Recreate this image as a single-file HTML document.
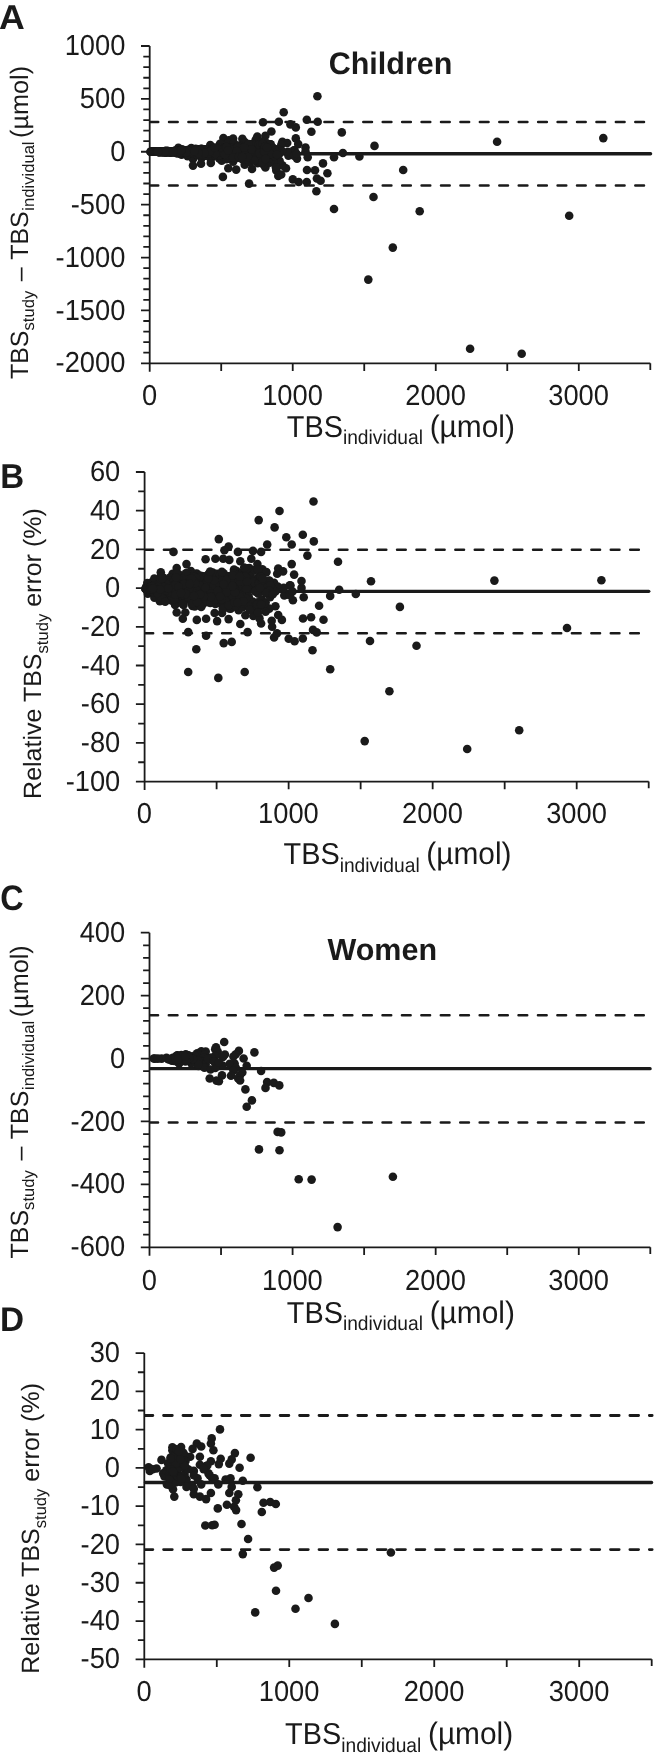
<!DOCTYPE html>
<html lang="en"><head><meta charset="utf-8"><title>Figure</title><style>html,body{margin:0;padding:0;background:#fff}svg{display:block;text-rendering:geometricPrecision;will-change:transform}</style></head><body>
<svg width="654" height="1756" viewBox="0 0 654 1756" font-family="'Liberation Sans', sans-serif" fill="#1a1a1a">
<rect width="654" height="1756" fill="#fff"/>
<path d="M149.70 46.00V371.80M141.00 363.30H650.30M141.00 46.00H149.70M143.30 56.58H149.70M143.30 67.15H149.70M143.30 77.73H149.70M143.30 88.31H149.70M141.00 98.88H149.70M143.30 109.46H149.70M143.30 120.04H149.70M143.30 130.61H149.70M143.30 141.19H149.70M141.00 151.77H149.70M143.30 162.34H149.70M143.30 172.92H149.70M143.30 183.50H149.70M143.30 194.07H149.70M141.00 204.65H149.70M143.30 215.23H149.70M143.30 225.80H149.70M143.30 236.38H149.70M143.30 246.96H149.70M141.00 257.53H149.70M143.30 268.11H149.70M143.30 278.69H149.70M143.30 289.26H149.70M143.30 299.84H149.70M141.00 310.42H149.70M143.30 320.99H149.70M143.30 331.57H149.70M143.30 342.15H149.70M143.30 352.72H149.70M141.00 363.30H149.70M221.21 363.30V370.90M292.73 363.30V370.90M364.24 363.30V370.90M435.76 363.30V370.90M507.27 363.30V370.90M578.79 363.30V370.90M650.30 363.30V369.90" stroke="#1a1a1a" stroke-width="1.8" fill="none"/>
<text transform="translate(125.40 55.10) scale(1 1.06)" font-size="27.3" text-anchor="end">1000</text>
<text transform="translate(125.40 107.98) scale(1 1.06)" font-size="27.3" text-anchor="end">500</text>
<text transform="translate(125.40 160.87) scale(1 1.06)" font-size="27.3" text-anchor="end">0</text>
<text transform="translate(125.40 213.75) scale(1 1.06)" font-size="27.3" text-anchor="end">-500</text>
<text transform="translate(125.40 266.63) scale(1 1.06)" font-size="27.3" text-anchor="end">-1000</text>
<text transform="translate(125.40 319.52) scale(1 1.06)" font-size="27.3" text-anchor="end">-1500</text>
<text transform="translate(125.40 372.40) scale(1 1.06)" font-size="27.3" text-anchor="end">-2000</text>
<text transform="translate(149.50 405.40) scale(1 1.06)" font-size="27.3" text-anchor="middle">0</text>
<text transform="translate(292.53 405.40) scale(1 1.06)" font-size="27.3" text-anchor="middle">1000</text>
<text transform="translate(435.56 405.40) scale(1 1.06)" font-size="27.3" text-anchor="middle">2000</text>
<text transform="translate(578.59 405.40) scale(1 1.06)" font-size="27.3" text-anchor="middle">3000</text>
<path d="M150.90 153.75H650.60" stroke="#1a1a1a" stroke-width="3.3" stroke-linecap="round" fill="none"/>
<path d="M150.70 122.00H644.35" stroke="#1a1a1a" stroke-width="2.5" stroke-linecap="round" stroke-dasharray="8.7 10.73" stroke-dashoffset="1.15" fill="none"/>
<path d="M150.70 185.55H644.35" stroke="#1a1a1a" stroke-width="2.5" stroke-linecap="round" stroke-dasharray="8.7 10.73" stroke-dashoffset="1.15" fill="none"/>
<g><circle cx="283.7" cy="112.3" r="4.3"/><circle cx="263.0" cy="122.3" r="4.3"/><circle cx="278.8" cy="121.8" r="4.3"/><circle cx="290.4" cy="124.4" r="4.3"/><circle cx="295.8" cy="127.4" r="4.3"/><circle cx="306.8" cy="119.7" r="4.3"/><circle cx="271.4" cy="131.5" r="4.3"/><circle cx="223.4" cy="138.0" r="4.3"/><circle cx="233.1" cy="138.5" r="4.3"/><circle cx="228.9" cy="140.3" r="4.3"/><circle cx="242.4" cy="138.9" r="4.3"/><circle cx="257.3" cy="136.5" r="4.3"/><circle cx="265.4" cy="135.8" r="4.3"/><circle cx="178.4" cy="147.8" r="4.3"/><circle cx="210.3" cy="145.1" r="4.3"/><circle cx="220.0" cy="143.9" r="4.3"/><circle cx="227.8" cy="143.0" r="4.3"/><circle cx="233.8" cy="142.7" r="4.3"/><circle cx="191.3" cy="148.0" r="4.3"/><circle cx="181.6" cy="149.3" r="4.3"/><circle cx="165.8" cy="150.8" r="4.3"/><circle cx="295.8" cy="138.4" r="4.3"/><circle cx="282.4" cy="141.8" r="4.3"/><circle cx="287.2" cy="143.0" r="4.3"/><circle cx="298.2" cy="144.1" r="4.3"/><circle cx="244.7" cy="142.0" r="4.3"/><circle cx="255.7" cy="139.9" r="4.3"/><circle cx="261.7" cy="141.5" r="4.3"/><circle cx="270.3" cy="144.4" r="4.3"/><circle cx="181.6" cy="154.7" r="4.3"/><circle cx="190.1" cy="155.5" r="4.3"/><circle cx="187.6" cy="156.2" r="4.3"/><circle cx="201.5" cy="158.1" r="4.3"/><circle cx="210.8" cy="158.9" r="4.3"/><circle cx="221.7" cy="160.8" r="4.3"/><circle cx="233.1" cy="161.6" r="4.3"/><circle cx="219.2" cy="158.4" r="4.3"/><circle cx="226.6" cy="159.1" r="4.3"/><circle cx="244.7" cy="164.8" r="4.3"/><circle cx="252.0" cy="169.0" r="4.3"/><circle cx="193.0" cy="159.0" r="4.3"/><circle cx="210.8" cy="162.9" r="4.3"/><circle cx="228.3" cy="168.3" r="4.3"/><circle cx="236.2" cy="169.6" r="4.3"/><circle cx="201.0" cy="163.8" r="4.3"/><circle cx="193.0" cy="165.6" r="4.3"/><circle cx="222.9" cy="176.9" r="4.3"/><circle cx="249.1" cy="183.6" r="4.3"/><circle cx="265.4" cy="167.4" r="4.3"/><circle cx="276.3" cy="170.4" r="4.3"/><circle cx="286.0" cy="168.3" r="4.3"/><circle cx="282.4" cy="165.4" r="4.3"/><circle cx="278.3" cy="176.0" r="4.3"/><circle cx="281.2" cy="174.5" r="4.3"/><circle cx="292.8" cy="179.4" r="4.3"/><circle cx="298.7" cy="182.0" r="4.3"/><circle cx="307.0" cy="170.0" r="4.3"/><circle cx="297.0" cy="158.6" r="4.3"/><circle cx="288.4" cy="155.6" r="4.3"/><circle cx="305.5" cy="151.6" r="4.3"/><circle cx="294.6" cy="150.4" r="4.3"/><circle cx="317.4" cy="96.3" r="4.3"/><circle cx="317.7" cy="121.8" r="4.3"/><circle cx="311.4" cy="131.7" r="4.3"/><circle cx="341.8" cy="132.4" r="4.3"/><circle cx="305.5" cy="147.5" r="4.3"/><circle cx="374.5" cy="145.9" r="4.3"/><circle cx="293.9" cy="150.3" r="4.3"/><circle cx="287.8" cy="151.7" r="4.3"/><circle cx="342.9" cy="153.0" r="4.3"/><circle cx="359.4" cy="156.5" r="4.3"/><circle cx="334.0" cy="157.3" r="4.3"/><circle cx="307.7" cy="157.3" r="4.3"/><circle cx="293.9" cy="155.7" r="4.3"/><circle cx="323.0" cy="163.4" r="4.3"/><circle cx="403.2" cy="170.0" r="4.3"/><circle cx="315.0" cy="170.2" r="4.3"/><circle cx="327.4" cy="173.2" r="4.3"/><circle cx="316.9" cy="178.5" r="4.3"/><circle cx="320.6" cy="180.7" r="4.3"/><circle cx="306.8" cy="182.0" r="4.3"/><circle cx="316.4" cy="191.3" r="4.3"/><circle cx="373.5" cy="197.0" r="4.3"/><circle cx="419.7" cy="211.3" r="4.3"/><circle cx="281.4" cy="144.5" r="4.3"/><circle cx="267.4" cy="143.9" r="4.3"/><circle cx="296.6" cy="153.7" r="4.3"/><circle cx="273.5" cy="148.2" r="4.3"/><circle cx="278.3" cy="149.2" r="4.3"/><circle cx="282.0" cy="151.0" r="4.3"/><circle cx="275.9" cy="151.6" r="4.3"/><circle cx="279.6" cy="153.5" r="4.3"/><circle cx="274.1" cy="154.5" r="4.3"/><circle cx="270.5" cy="152.8" r="4.3"/><circle cx="266.2" cy="157.1" r="4.3"/><circle cx="269.9" cy="158.4" r="4.3"/><circle cx="279.6" cy="160.8" r="4.3"/><circle cx="273.5" cy="161.5" r="4.3"/><circle cx="269.9" cy="162.6" r="4.3"/><circle cx="275.9" cy="167.5" r="4.3"/><circle cx="257.6" cy="163.3" r="4.3"/><circle cx="263.8" cy="165.0" r="4.3"/><circle cx="249.8" cy="162.2" r="4.3"/><circle cx="258.9" cy="160.3" r="4.3"/><circle cx="254.1" cy="158.0" r="4.3"/><circle cx="334.0" cy="209.0" r="4.3"/><circle cx="392.8" cy="247.6" r="4.3"/><circle cx="368.3" cy="279.6" r="4.3"/><circle cx="470.1" cy="348.8" r="4.3"/><circle cx="521.7" cy="353.8" r="4.3"/><circle cx="497.1" cy="141.8" r="4.3"/><circle cx="603.3" cy="138.1" r="4.3"/><circle cx="569.2" cy="215.7" r="4.3"/><circle cx="181.8" cy="152.9" r="4.3"/><circle cx="207.6" cy="152.4" r="4.3"/><circle cx="235.2" cy="158.5" r="4.3"/><circle cx="243.0" cy="159.7" r="4.3"/><circle cx="217.4" cy="153.6" r="4.3"/><circle cx="253.0" cy="155.9" r="4.3"/><circle cx="235.7" cy="155.1" r="4.3"/><circle cx="249.8" cy="150.8" r="4.3"/><circle cx="190.8" cy="151.1" r="4.3"/><circle cx="230.8" cy="152.2" r="4.3"/><circle cx="156.3" cy="151.7" r="4.3"/><circle cx="217.9" cy="153.6" r="4.3"/><circle cx="241.0" cy="145.8" r="4.3"/><circle cx="227.6" cy="150.0" r="4.3"/><circle cx="167.8" cy="151.0" r="4.3"/><circle cx="178.2" cy="151.2" r="4.3"/><circle cx="165.5" cy="151.4" r="4.3"/><circle cx="197.2" cy="155.0" r="4.3"/><circle cx="196.1" cy="153.0" r="4.3"/><circle cx="154.2" cy="151.8" r="4.3"/><circle cx="176.4" cy="152.5" r="4.3"/><circle cx="186.8" cy="151.0" r="4.3"/><circle cx="235.3" cy="150.7" r="4.3"/><circle cx="170.9" cy="152.5" r="4.3"/><circle cx="253.3" cy="150.7" r="4.3"/><circle cx="214.2" cy="153.1" r="4.3"/><circle cx="222.3" cy="148.7" r="4.3"/><circle cx="192.0" cy="150.7" r="4.3"/><circle cx="159.8" cy="151.8" r="4.3"/><circle cx="205.7" cy="155.1" r="4.3"/><circle cx="254.2" cy="160.1" r="4.3"/><circle cx="251.0" cy="156.5" r="4.3"/><circle cx="182.4" cy="150.1" r="4.3"/><circle cx="198.5" cy="149.3" r="4.3"/><circle cx="191.9" cy="152.1" r="4.3"/><circle cx="221.0" cy="151.7" r="4.3"/><circle cx="219.3" cy="148.2" r="4.3"/><circle cx="204.7" cy="149.7" r="4.3"/><circle cx="267.0" cy="148.6" r="4.3"/><circle cx="238.7" cy="147.9" r="4.3"/><circle cx="246.3" cy="151.9" r="4.3"/><circle cx="227.4" cy="149.3" r="4.3"/><circle cx="215.2" cy="155.0" r="4.3"/><circle cx="189.7" cy="151.3" r="4.3"/><circle cx="244.6" cy="148.9" r="4.3"/><circle cx="158.5" cy="151.7" r="4.3"/><circle cx="188.3" cy="154.2" r="4.3"/><circle cx="175.6" cy="151.6" r="4.3"/><circle cx="262.7" cy="147.0" r="4.3"/><circle cx="255.7" cy="148.5" r="4.3"/><circle cx="191.8" cy="151.4" r="4.3"/><circle cx="171.9" cy="152.3" r="4.3"/><circle cx="257.3" cy="158.8" r="4.3"/><circle cx="204.7" cy="154.7" r="4.3"/><circle cx="198.6" cy="152.0" r="4.3"/><circle cx="244.2" cy="149.6" r="4.3"/><circle cx="169.0" cy="151.8" r="4.3"/><circle cx="188.7" cy="153.0" r="4.3"/><circle cx="179.4" cy="152.8" r="4.3"/><circle cx="234.3" cy="149.1" r="4.3"/><circle cx="231.6" cy="150.2" r="4.3"/><circle cx="176.5" cy="151.7" r="4.3"/><circle cx="177.6" cy="152.1" r="4.3"/><circle cx="190.7" cy="150.3" r="4.3"/><circle cx="197.5" cy="150.2" r="4.3"/><circle cx="229.5" cy="151.9" r="4.3"/><circle cx="160.6" cy="151.7" r="4.3"/><circle cx="184.4" cy="151.8" r="4.3"/><circle cx="212.5" cy="153.6" r="4.3"/><circle cx="262.3" cy="148.5" r="4.3"/><circle cx="229.7" cy="152.1" r="4.3"/><circle cx="250.6" cy="144.4" r="4.3"/><circle cx="201.8" cy="149.6" r="4.3"/><circle cx="182.4" cy="153.2" r="4.3"/><circle cx="259.2" cy="152.1" r="4.3"/><circle cx="228.7" cy="157.1" r="4.3"/><circle cx="220.7" cy="151.3" r="4.3"/><circle cx="164.8" cy="151.9" r="4.3"/><circle cx="160.1" cy="151.8" r="4.3"/><circle cx="220.7" cy="153.3" r="4.3"/><circle cx="153.7" cy="151.8" r="4.3"/><circle cx="226.5" cy="150.9" r="4.3"/><circle cx="161.5" cy="151.4" r="4.3"/><circle cx="184.0" cy="150.5" r="4.3"/><circle cx="234.8" cy="151.9" r="4.3"/><circle cx="267.6" cy="150.3" r="4.3"/><circle cx="205.9" cy="152.8" r="4.3"/><circle cx="180.4" cy="151.8" r="4.3"/><circle cx="217.0" cy="149.8" r="4.3"/><circle cx="199.1" cy="151.8" r="4.3"/><circle cx="220.0" cy="156.0" r="4.3"/><circle cx="215.8" cy="151.1" r="4.3"/><circle cx="181.1" cy="151.3" r="4.3"/><circle cx="251.1" cy="151.2" r="4.3"/><circle cx="214.0" cy="150.9" r="4.3"/><circle cx="192.5" cy="153.5" r="4.3"/><circle cx="243.1" cy="149.2" r="4.3"/><circle cx="225.0" cy="154.7" r="4.3"/><circle cx="162.3" cy="151.6" r="4.3"/><circle cx="260.4" cy="160.9" r="4.3"/><circle cx="222.4" cy="152.6" r="4.3"/><circle cx="170.1" cy="152.1" r="4.3"/><circle cx="167.3" cy="152.1" r="4.3"/><circle cx="216.9" cy="152.2" r="4.3"/><circle cx="210.5" cy="152.1" r="4.3"/><circle cx="212.2" cy="154.7" r="4.3"/><circle cx="234.1" cy="148.7" r="4.3"/><circle cx="196.2" cy="152.1" r="4.3"/><circle cx="228.9" cy="156.2" r="4.3"/><circle cx="155.0" cy="151.8" r="4.3"/><circle cx="213.0" cy="150.7" r="4.3"/><circle cx="245.1" cy="152.6" r="4.3"/><circle cx="221.9" cy="151.3" r="4.3"/><circle cx="181.4" cy="152.0" r="4.3"/><circle cx="211.5" cy="152.7" r="4.3"/><circle cx="155.4" cy="151.7" r="4.3"/><circle cx="201.8" cy="150.8" r="4.3"/><circle cx="207.5" cy="152.5" r="4.3"/><circle cx="229.3" cy="151.7" r="4.3"/><circle cx="197.5" cy="152.6" r="4.3"/><circle cx="244.0" cy="156.9" r="4.3"/><circle cx="216.8" cy="154.7" r="4.3"/><circle cx="193.3" cy="151.8" r="4.3"/><circle cx="171.9" cy="151.3" r="4.3"/><circle cx="197.1" cy="151.0" r="4.3"/><circle cx="177.6" cy="153.1" r="4.3"/><circle cx="179.8" cy="150.5" r="4.3"/><circle cx="180.2" cy="152.1" r="4.3"/><circle cx="212.8" cy="152.0" r="4.3"/><circle cx="266.7" cy="143.3" r="4.3"/><circle cx="235.7" cy="150.6" r="4.3"/><circle cx="187.9" cy="153.5" r="4.3"/><circle cx="181.4" cy="152.8" r="4.3"/><circle cx="249.7" cy="152.5" r="4.3"/><circle cx="154.6" cy="151.8" r="4.3"/><circle cx="201.3" cy="149.5" r="4.3"/><circle cx="253.1" cy="151.4" r="4.3"/><circle cx="160.2" cy="151.9" r="4.3"/><circle cx="180.9" cy="150.9" r="4.3"/><circle cx="221.9" cy="153.2" r="4.3"/><circle cx="241.8" cy="153.4" r="4.3"/><circle cx="223.3" cy="155.9" r="4.3"/><circle cx="257.6" cy="148.3" r="4.3"/><circle cx="185.4" cy="152.6" r="4.3"/><circle cx="238.1" cy="151.3" r="4.3"/><circle cx="168.1" cy="151.9" r="4.3"/><circle cx="226.8" cy="153.0" r="4.3"/><circle cx="177.7" cy="152.0" r="4.3"/><circle cx="180.0" cy="153.7" r="4.3"/><circle cx="262.2" cy="151.9" r="4.3"/><circle cx="230.9" cy="154.0" r="4.3"/><circle cx="256.0" cy="145.1" r="4.3"/><circle cx="166.2" cy="151.4" r="4.3"/><circle cx="247.9" cy="156.4" r="4.3"/><circle cx="228.0" cy="153.9" r="4.3"/><circle cx="212.1" cy="151.4" r="4.3"/><circle cx="259.9" cy="153.0" r="4.3"/><circle cx="185.9" cy="152.6" r="4.3"/><circle cx="247.0" cy="153.7" r="4.3"/><circle cx="224.0" cy="148.2" r="4.3"/><circle cx="261.3" cy="159.6" r="4.3"/><circle cx="200.6" cy="149.0" r="4.3"/><circle cx="238.4" cy="154.5" r="4.3"/><circle cx="245.8" cy="146.1" r="4.3"/><circle cx="179.8" cy="151.7" r="4.3"/><circle cx="242.0" cy="150.6" r="4.3"/><circle cx="152.9" cy="151.8" r="4.3"/><circle cx="246.9" cy="151.8" r="4.3"/><circle cx="179.9" cy="151.5" r="4.3"/><circle cx="221.5" cy="151.1" r="4.3"/><circle cx="204.2" cy="154.3" r="4.3"/><circle cx="208.9" cy="150.4" r="4.3"/><circle cx="176.6" cy="152.4" r="4.3"/><circle cx="223.2" cy="153.9" r="4.3"/><circle cx="224.4" cy="151.5" r="4.3"/><circle cx="177.6" cy="151.7" r="4.3"/><circle cx="208.1" cy="149.2" r="4.3"/><circle cx="173.2" cy="151.4" r="4.3"/><circle cx="154.9" cy="151.7" r="4.3"/><circle cx="231.9" cy="150.4" r="4.3"/><circle cx="251.3" cy="151.8" r="4.3"/><circle cx="253.1" cy="155.6" r="4.3"/><circle cx="196.9" cy="149.9" r="4.3"/><circle cx="160.9" cy="151.9" r="4.3"/><circle cx="190.9" cy="151.4" r="4.3"/><circle cx="270.1" cy="154.3" r="4.3"/><circle cx="232.6" cy="155.9" r="4.3"/><circle cx="201.5" cy="148.9" r="4.3"/><circle cx="253.8" cy="143.8" r="4.3"/><circle cx="214.3" cy="149.7" r="4.3"/><circle cx="222.9" cy="149.0" r="4.3"/><circle cx="218.1" cy="153.8" r="4.3"/><circle cx="189.3" cy="152.6" r="4.3"/><circle cx="168.6" cy="151.4" r="4.3"/><circle cx="165.0" cy="151.5" r="4.3"/><circle cx="169.5" cy="151.4" r="4.3"/><circle cx="191.7" cy="152.7" r="4.3"/><circle cx="231.1" cy="152.2" r="4.3"/><circle cx="161.9" cy="151.7" r="4.3"/><circle cx="175.3" cy="150.8" r="4.3"/><circle cx="184.4" cy="152.7" r="4.3"/><circle cx="179.0" cy="152.6" r="4.3"/><circle cx="218.6" cy="152.9" r="4.3"/><circle cx="232.6" cy="148.8" r="4.3"/><circle cx="223.6" cy="150.1" r="4.3"/><circle cx="191.3" cy="153.4" r="4.3"/><circle cx="255.0" cy="147.0" r="4.3"/><circle cx="168.1" cy="151.1" r="4.3"/><circle cx="187.7" cy="150.1" r="4.3"/><circle cx="179.3" cy="152.0" r="4.3"/><circle cx="157.0" cy="151.6" r="4.3"/><circle cx="216.5" cy="148.9" r="4.3"/><circle cx="188.6" cy="152.5" r="4.3"/><circle cx="161.2" cy="152.1" r="4.3"/><circle cx="192.1" cy="151.5" r="4.3"/><circle cx="238.9" cy="154.0" r="4.3"/><circle cx="201.2" cy="152.2" r="4.3"/><circle cx="154.1" cy="151.8" r="4.3"/><circle cx="189.0" cy="150.4" r="4.3"/><circle cx="182.9" cy="152.0" r="4.3"/><circle cx="154.2" cy="151.8" r="4.3"/><circle cx="184.2" cy="152.2" r="4.3"/><circle cx="171.9" cy="151.5" r="4.3"/><circle cx="197.0" cy="151.0" r="4.3"/><circle cx="213.6" cy="148.3" r="4.3"/><circle cx="232.4" cy="153.2" r="4.3"/><circle cx="204.2" cy="151.9" r="4.3"/><circle cx="266.8" cy="160.1" r="4.3"/><circle cx="230.0" cy="151.0" r="4.3"/><circle cx="262.3" cy="157.8" r="4.3"/><circle cx="237.2" cy="155.0" r="4.3"/><circle cx="232.4" cy="148.9" r="4.3"/><circle cx="232.3" cy="152.4" r="4.3"/><circle cx="181.0" cy="150.2" r="4.3"/><circle cx="159.2" cy="151.7" r="4.3"/><circle cx="201.1" cy="152.4" r="4.3"/><circle cx="198.3" cy="153.0" r="4.3"/><circle cx="192.1" cy="152.9" r="4.3"/><circle cx="202.8" cy="152.5" r="4.3"/><circle cx="257.8" cy="149.2" r="4.3"/><circle cx="268.7" cy="151.2" r="4.3"/><circle cx="220.9" cy="153.2" r="4.3"/><circle cx="158.8" cy="151.9" r="4.3"/><circle cx="161.3" cy="151.8" r="4.3"/><circle cx="158.2" cy="151.9" r="4.3"/><circle cx="220.5" cy="152.1" r="4.3"/><circle cx="177.5" cy="152.6" r="4.3"/><circle cx="233.4" cy="148.3" r="4.3"/><circle cx="186.1" cy="153.5" r="4.3"/><circle cx="253.7" cy="145.8" r="4.3"/><circle cx="220.4" cy="152.7" r="4.3"/><circle cx="189.0" cy="151.5" r="4.3"/><circle cx="152.7" cy="151.8" r="4.3"/><circle cx="265.4" cy="147.2" r="4.3"/><circle cx="233.7" cy="158.3" r="4.3"/><circle cx="174.8" cy="152.3" r="4.3"/><circle cx="223.3" cy="151.0" r="4.3"/><circle cx="165.4" cy="152.3" r="4.3"/><circle cx="230.9" cy="149.6" r="4.3"/><circle cx="201.8" cy="149.1" r="4.3"/><circle cx="166.7" cy="151.9" r="4.3"/><circle cx="158.8" cy="151.8" r="4.3"/><circle cx="205.0" cy="151.9" r="4.3"/><circle cx="177.3" cy="151.6" r="4.3"/><circle cx="195.7" cy="148.8" r="4.3"/><circle cx="177.5" cy="150.3" r="4.3"/><circle cx="162.2" cy="152.0" r="4.3"/><circle cx="222.7" cy="150.3" r="4.3"/><circle cx="216.5" cy="151.4" r="4.3"/><circle cx="248.5" cy="152.1" r="4.3"/><circle cx="226.2" cy="150.3" r="4.3"/><circle cx="263.2" cy="149.4" r="4.3"/><circle cx="158.4" cy="151.9" r="4.3"/><circle cx="239.0" cy="150.9" r="4.3"/><circle cx="251.4" cy="152.5" r="4.3"/><circle cx="200.4" cy="150.0" r="4.3"/><circle cx="222.9" cy="149.7" r="4.3"/><circle cx="161.8" cy="151.8" r="4.3"/><circle cx="175.2" cy="151.2" r="4.3"/><circle cx="217.4" cy="147.7" r="4.3"/><circle cx="180.4" cy="151.3" r="4.3"/><circle cx="196.9" cy="154.0" r="4.3"/><circle cx="232.5" cy="153.4" r="4.3"/><circle cx="265.2" cy="149.2" r="4.3"/><circle cx="237.2" cy="148.7" r="4.3"/><circle cx="199.6" cy="155.2" r="4.3"/><circle cx="164.1" cy="151.9" r="4.3"/><circle cx="195.3" cy="151.9" r="4.3"/><circle cx="266.0" cy="158.9" r="4.3"/><circle cx="223.4" cy="153.7" r="4.3"/><circle cx="192.0" cy="150.7" r="4.3"/><circle cx="244.3" cy="147.3" r="4.3"/><circle cx="178.2" cy="151.8" r="4.3"/><circle cx="178.5" cy="151.0" r="4.3"/><circle cx="177.3" cy="152.4" r="4.3"/><circle cx="214.0" cy="150.5" r="4.3"/><circle cx="226.0" cy="151.7" r="4.3"/><circle cx="219.1" cy="153.5" r="4.3"/><circle cx="223.3" cy="153.5" r="4.3"/><circle cx="184.7" cy="152.5" r="4.3"/><circle cx="183.4" cy="152.0" r="4.3"/><circle cx="230.3" cy="149.4" r="4.3"/><circle cx="236.7" cy="156.5" r="4.3"/><circle cx="194.9" cy="152.3" r="4.3"/><circle cx="189.5" cy="150.9" r="4.3"/><circle cx="155.1" cy="151.8" r="4.3"/><circle cx="238.5" cy="145.5" r="4.3"/><circle cx="183.8" cy="152.3" r="4.3"/><circle cx="189.1" cy="152.0" r="4.3"/><circle cx="206.7" cy="155.5" r="4.3"/><circle cx="231.1" cy="155.3" r="4.3"/><circle cx="225.4" cy="153.4" r="4.3"/><circle cx="186.0" cy="153.1" r="4.3"/><circle cx="176.8" cy="151.1" r="4.3"/><circle cx="233.2" cy="149.0" r="4.3"/><circle cx="184.1" cy="150.6" r="4.3"/><circle cx="195.5" cy="149.4" r="4.3"/><circle cx="208.3" cy="153.8" r="4.3"/><circle cx="233.0" cy="157.3" r="4.3"/><circle cx="192.8" cy="150.1" r="4.3"/><circle cx="199.1" cy="152.3" r="4.3"/><circle cx="176.7" cy="150.8" r="4.3"/><circle cx="257.1" cy="157.3" r="4.3"/><circle cx="233.7" cy="155.4" r="4.3"/><circle cx="200.3" cy="153.7" r="4.3"/><circle cx="264.5" cy="147.5" r="4.3"/><circle cx="221.4" cy="155.2" r="4.3"/><circle cx="184.4" cy="152.9" r="4.3"/><circle cx="205.2" cy="152.9" r="4.3"/><circle cx="199.8" cy="151.6" r="4.3"/><circle cx="249.4" cy="151.7" r="4.3"/><circle cx="166.5" cy="152.2" r="4.3"/><circle cx="161.4" cy="151.7" r="4.3"/><circle cx="215.7" cy="151.0" r="4.3"/><circle cx="215.6" cy="153.9" r="4.3"/><circle cx="172.3" cy="152.3" r="4.3"/><circle cx="190.3" cy="153.2" r="4.3"/><circle cx="233.7" cy="152.7" r="4.3"/><circle cx="220.2" cy="151.9" r="4.3"/><circle cx="247.3" cy="150.7" r="4.3"/><circle cx="170.8" cy="151.7" r="4.3"/><circle cx="202.9" cy="153.0" r="4.3"/><circle cx="180.7" cy="152.4" r="4.3"/><circle cx="234.1" cy="151.4" r="4.3"/><circle cx="214.8" cy="152.5" r="4.3"/><circle cx="192.0" cy="149.3" r="4.3"/><circle cx="225.3" cy="154.0" r="4.3"/><circle cx="177.0" cy="150.7" r="4.3"/><circle cx="202.9" cy="149.7" r="4.3"/><circle cx="164.7" cy="151.3" r="4.3"/><circle cx="230.9" cy="153.7" r="4.3"/><circle cx="185.0" cy="152.8" r="4.3"/><circle cx="249.4" cy="152.8" r="4.3"/><circle cx="188.2" cy="154.0" r="4.3"/><circle cx="158.4" cy="151.7" r="4.3"/><circle cx="230.4" cy="155.8" r="4.3"/><circle cx="250.7" cy="147.8" r="4.3"/><circle cx="183.5" cy="153.1" r="4.3"/><circle cx="171.2" cy="151.8" r="4.3"/><circle cx="257.4" cy="158.1" r="4.3"/><circle cx="241.4" cy="149.7" r="4.3"/><circle cx="252.9" cy="155.0" r="4.3"/><circle cx="177.5" cy="151.5" r="4.3"/><circle cx="182.9" cy="150.9" r="4.3"/><circle cx="221.8" cy="153.0" r="4.3"/><circle cx="189.1" cy="150.9" r="4.3"/><circle cx="193.3" cy="149.8" r="4.3"/><circle cx="177.8" cy="151.1" r="4.3"/><circle cx="182.8" cy="151.5" r="4.3"/><circle cx="201.3" cy="151.6" r="4.3"/><circle cx="195.1" cy="151.8" r="4.3"/><circle cx="197.7" cy="149.7" r="4.3"/><circle cx="205.7" cy="153.4" r="4.3"/><circle cx="245.0" cy="149.9" r="4.3"/><circle cx="162.6" cy="152.0" r="4.3"/><circle cx="162.5" cy="151.9" r="4.3"/><circle cx="204.9" cy="150.7" r="4.3"/><circle cx="235.9" cy="157.2" r="4.3"/><circle cx="175.6" cy="151.1" r="4.3"/><circle cx="246.7" cy="156.9" r="4.3"/><circle cx="182.0" cy="151.9" r="4.3"/><circle cx="185.0" cy="151.7" r="4.3"/><circle cx="167.7" cy="151.6" r="4.3"/><circle cx="236.7" cy="147.6" r="4.3"/><circle cx="230.8" cy="153.1" r="4.3"/><circle cx="156.3" cy="151.6" r="4.3"/><circle cx="201.6" cy="150.4" r="4.3"/><circle cx="245.8" cy="147.5" r="4.3"/><circle cx="184.5" cy="152.8" r="4.3"/><circle cx="209.8" cy="151.5" r="4.3"/><circle cx="167.7" cy="151.2" r="4.3"/><circle cx="203.0" cy="154.9" r="4.3"/><circle cx="174.4" cy="152.2" r="4.3"/><circle cx="251.6" cy="151.0" r="4.3"/><circle cx="249.0" cy="147.9" r="4.3"/><circle cx="181.2" cy="151.1" r="4.3"/><circle cx="220.4" cy="150.0" r="4.3"/><circle cx="245.0" cy="153.6" r="4.3"/><circle cx="163.3" cy="152.0" r="4.3"/><circle cx="190.5" cy="152.4" r="4.3"/><circle cx="183.4" cy="150.1" r="4.3"/><circle cx="192.9" cy="151.7" r="4.3"/><circle cx="169.9" cy="152.0" r="4.3"/><circle cx="246.4" cy="149.9" r="4.3"/><circle cx="212.1" cy="148.7" r="4.3"/><circle cx="251.8" cy="151.7" r="4.3"/><circle cx="238.0" cy="152.4" r="4.3"/><circle cx="204.2" cy="149.2" r="4.3"/><circle cx="228.1" cy="150.0" r="4.3"/><circle cx="214.4" cy="149.8" r="4.3"/><circle cx="192.6" cy="151.3" r="4.3"/><circle cx="197.4" cy="151.7" r="4.3"/><circle cx="175.7" cy="151.1" r="4.3"/><circle cx="164.5" cy="151.9" r="4.3"/><circle cx="199.4" cy="150.0" r="4.3"/><circle cx="167.6" cy="151.6" r="4.3"/><circle cx="190.7" cy="152.4" r="4.3"/><circle cx="220.3" cy="153.4" r="4.3"/><circle cx="245.3" cy="149.8" r="4.3"/><circle cx="182.2" cy="150.6" r="4.3"/><circle cx="258.9" cy="144.2" r="4.3"/><circle cx="186.0" cy="151.3" r="4.3"/><circle cx="195.0" cy="152.2" r="4.3"/><circle cx="162.5" cy="151.7" r="4.3"/><circle cx="205.5" cy="153.4" r="4.3"/><circle cx="211.9" cy="153.2" r="4.3"/><circle cx="183.6" cy="152.2" r="4.3"/><circle cx="162.8" cy="151.5" r="4.3"/><circle cx="165.2" cy="151.9" r="4.3"/><circle cx="192.9" cy="153.4" r="4.3"/><circle cx="199.4" cy="149.7" r="4.3"/><circle cx="169.4" cy="152.3" r="4.3"/><circle cx="171.9" cy="151.7" r="4.3"/><circle cx="236.5" cy="156.3" r="4.3"/><circle cx="262.3" cy="143.9" r="4.3"/><circle cx="161.5" cy="151.7" r="4.3"/><circle cx="178.8" cy="151.5" r="4.3"/><circle cx="183.2" cy="152.3" r="4.3"/><circle cx="160.9" cy="151.7" r="4.3"/><circle cx="198.7" cy="150.7" r="4.3"/><circle cx="174.9" cy="150.8" r="4.3"/><circle cx="217.7" cy="148.6" r="4.3"/><circle cx="204.6" cy="154.1" r="4.3"/><circle cx="164.1" cy="151.8" r="4.3"/><circle cx="219.9" cy="151.6" r="4.3"/><circle cx="188.4" cy="152.8" r="4.3"/><circle cx="208.0" cy="150.7" r="4.3"/><circle cx="191.2" cy="151.9" r="4.3"/><circle cx="221.7" cy="147.9" r="4.3"/><circle cx="226.6" cy="154.4" r="4.3"/><circle cx="269.1" cy="158.7" r="4.3"/><circle cx="235.2" cy="152.1" r="4.3"/><circle cx="223.6" cy="154.9" r="4.3"/><circle cx="212.3" cy="151.3" r="4.3"/><circle cx="187.9" cy="150.0" r="4.3"/><circle cx="231.1" cy="148.0" r="4.3"/><circle cx="236.3" cy="154.1" r="4.3"/><circle cx="178.0" cy="151.6" r="4.3"/><circle cx="227.6" cy="152.7" r="4.3"/><circle cx="159.9" cy="151.9" r="4.3"/><circle cx="184.1" cy="151.7" r="4.3"/><circle cx="191.2" cy="152.9" r="4.3"/><circle cx="204.2" cy="152.1" r="4.3"/><circle cx="228.7" cy="152.5" r="4.3"/><circle cx="182.8" cy="152.7" r="4.3"/><circle cx="166.0" cy="151.9" r="4.3"/><circle cx="186.1" cy="151.6" r="4.3"/><circle cx="207.1" cy="150.6" r="4.3"/><circle cx="208.5" cy="152.6" r="4.3"/><circle cx="228.2" cy="147.3" r="4.3"/><circle cx="159.3" cy="152.0" r="4.3"/><circle cx="228.5" cy="152.4" r="4.3"/><circle cx="200.0" cy="150.9" r="4.3"/><circle cx="194.6" cy="151.1" r="4.3"/><circle cx="261.9" cy="153.7" r="4.3"/><circle cx="165.9" cy="152.3" r="4.3"/><circle cx="263.1" cy="152.8" r="4.3"/><circle cx="189.8" cy="150.8" r="4.3"/><circle cx="155.3" cy="151.7" r="4.3"/><circle cx="212.2" cy="153.4" r="4.3"/><circle cx="256.1" cy="157.6" r="4.3"/><circle cx="229.7" cy="152.7" r="4.3"/><circle cx="248.2" cy="148.8" r="4.3"/><circle cx="189.7" cy="152.8" r="4.3"/><circle cx="228.3" cy="156.4" r="4.3"/><circle cx="238.4" cy="152.4" r="4.3"/><circle cx="167.8" cy="152.2" r="4.3"/><circle cx="187.2" cy="152.4" r="4.3"/><circle cx="206.1" cy="151.4" r="4.3"/><circle cx="161.5" cy="151.4" r="4.3"/><circle cx="179.5" cy="150.7" r="4.3"/><circle cx="173.5" cy="152.1" r="4.3"/><circle cx="197.9" cy="151.1" r="4.3"/><circle cx="180.9" cy="151.5" r="4.3"/><circle cx="205.6" cy="151.8" r="4.3"/><circle cx="190.7" cy="149.5" r="4.3"/><circle cx="207.5" cy="153.9" r="4.3"/><circle cx="180.0" cy="152.5" r="4.3"/><circle cx="180.7" cy="152.2" r="4.3"/><circle cx="187.1" cy="152.5" r="4.3"/><circle cx="241.1" cy="149.2" r="4.3"/><circle cx="232.3" cy="148.1" r="4.3"/><circle cx="156.6" cy="151.8" r="4.3"/><circle cx="234.0" cy="150.3" r="4.3"/><circle cx="159.3" cy="151.7" r="4.3"/><circle cx="205.9" cy="152.1" r="4.3"/><circle cx="177.8" cy="152.1" r="4.3"/><circle cx="219.4" cy="152.6" r="4.3"/><circle cx="218.7" cy="153.4" r="4.3"/><circle cx="193.4" cy="151.2" r="4.3"/><circle cx="262.6" cy="154.1" r="4.3"/><circle cx="209.9" cy="150.8" r="4.3"/><circle cx="186.7" cy="151.1" r="4.3"/><circle cx="205.5" cy="153.2" r="4.3"/><circle cx="203.3" cy="153.1" r="4.3"/><circle cx="176.7" cy="153.1" r="4.3"/><circle cx="187.8" cy="152.8" r="4.3"/><circle cx="270.7" cy="144.4" r="4.3"/><circle cx="227.8" cy="155.9" r="4.3"/><circle cx="252.2" cy="144.0" r="4.3"/><circle cx="212.0" cy="149.2" r="4.3"/><circle cx="173.9" cy="151.1" r="4.3"/><circle cx="176.5" cy="152.6" r="4.3"/><circle cx="180.2" cy="151.1" r="4.3"/><circle cx="223.8" cy="149.5" r="4.3"/><circle cx="240.0" cy="155.8" r="4.3"/><circle cx="212.2" cy="153.5" r="4.3"/><circle cx="218.7" cy="153.9" r="4.3"/><circle cx="159.4" cy="152.1" r="4.3"/><circle cx="223.9" cy="150.3" r="4.3"/><circle cx="221.1" cy="153.4" r="4.3"/><circle cx="185.5" cy="152.6" r="4.3"/><circle cx="182.0" cy="152.0" r="4.3"/><circle cx="188.8" cy="151.0" r="4.3"/><circle cx="184.5" cy="152.2" r="4.3"/><circle cx="190.0" cy="150.5" r="4.3"/><circle cx="175.2" cy="151.2" r="4.3"/><circle cx="183.4" cy="152.0" r="4.3"/><circle cx="232.1" cy="151.8" r="4.3"/><circle cx="191.4" cy="153.5" r="4.3"/><circle cx="192.8" cy="152.7" r="4.3"/><circle cx="246.3" cy="154.6" r="4.3"/><circle cx="232.3" cy="151.8" r="4.3"/><circle cx="236.3" cy="157.9" r="4.3"/><circle cx="208.8" cy="151.5" r="4.3"/><circle cx="220.0" cy="154.8" r="4.3"/><circle cx="196.2" cy="150.8" r="4.3"/><circle cx="165.1" cy="151.5" r="4.3"/><circle cx="228.2" cy="152.9" r="4.3"/><circle cx="190.4" cy="152.0" r="4.3"/><circle cx="240.5" cy="158.3" r="4.3"/><circle cx="208.7" cy="154.5" r="4.3"/><circle cx="269.8" cy="148.6" r="4.3"/><circle cx="162.7" cy="151.6" r="4.3"/><circle cx="180.6" cy="152.5" r="4.3"/><circle cx="215.3" cy="153.6" r="4.3"/><circle cx="165.6" cy="151.1" r="4.3"/><circle cx="160.7" cy="151.7" r="4.3"/><circle cx="211.3" cy="155.1" r="4.3"/><circle cx="184.0" cy="152.0" r="4.3"/><circle cx="187.3" cy="152.3" r="4.3"/><circle cx="224.4" cy="150.2" r="4.3"/><circle cx="233.0" cy="151.0" r="4.3"/><circle cx="194.1" cy="150.7" r="4.3"/><circle cx="229.2" cy="152.8" r="4.3"/><circle cx="215.0" cy="155.5" r="4.3"/><circle cx="166.0" cy="151.6" r="4.3"/><circle cx="177.0" cy="152.7" r="4.3"/><circle cx="238.3" cy="156.4" r="4.3"/><circle cx="245.4" cy="154.1" r="4.3"/><circle cx="206.6" cy="150.3" r="4.3"/><circle cx="164.8" cy="152.5" r="4.3"/><circle cx="246.6" cy="158.9" r="4.3"/><circle cx="229.8" cy="157.1" r="4.3"/><circle cx="196.9" cy="154.1" r="4.3"/><circle cx="222.7" cy="150.8" r="4.3"/><circle cx="191.2" cy="151.7" r="4.3"/><circle cx="250.4" cy="144.7" r="4.3"/><circle cx="235.4" cy="151.4" r="4.3"/><circle cx="223.9" cy="148.9" r="4.3"/><circle cx="205.5" cy="149.2" r="4.3"/><circle cx="205.6" cy="153.2" r="4.3"/><circle cx="210.9" cy="151.8" r="4.3"/><circle cx="211.1" cy="152.1" r="4.3"/><circle cx="240.8" cy="151.7" r="4.3"/><circle cx="224.7" cy="148.0" r="4.3"/><circle cx="178.8" cy="152.0" r="4.3"/><circle cx="188.0" cy="151.8" r="4.3"/><circle cx="222.1" cy="152.3" r="4.3"/><circle cx="188.2" cy="152.1" r="4.3"/><circle cx="227.4" cy="157.8" r="4.3"/><circle cx="181.4" cy="151.9" r="4.3"/><circle cx="234.2" cy="148.8" r="4.3"/><circle cx="220.4" cy="151.9" r="4.3"/><circle cx="153.2" cy="151.7" r="4.3"/><circle cx="174.3" cy="151.6" r="4.3"/><circle cx="179.1" cy="153.0" r="4.3"/><circle cx="185.3" cy="152.5" r="4.3"/><circle cx="178.2" cy="151.1" r="4.3"/><circle cx="248.9" cy="151.7" r="4.3"/><circle cx="203.0" cy="151.9" r="4.3"/><circle cx="167.5" cy="151.4" r="4.3"/><circle cx="206.8" cy="152.2" r="4.3"/><circle cx="232.0" cy="150.7" r="4.3"/><circle cx="214.1" cy="152.8" r="4.3"/><circle cx="191.0" cy="150.4" r="4.3"/><circle cx="267.5" cy="148.9" r="4.3"/><circle cx="207.9" cy="152.6" r="4.3"/><circle cx="179.8" cy="151.6" r="4.3"/><circle cx="188.9" cy="152.5" r="4.3"/><circle cx="200.0" cy="152.0" r="4.3"/><circle cx="186.4" cy="152.8" r="4.3"/><circle cx="225.3" cy="154.7" r="4.3"/><circle cx="242.3" cy="154.6" r="4.3"/><circle cx="192.1" cy="151.7" r="4.3"/><circle cx="159.3" cy="151.4" r="4.3"/><circle cx="227.3" cy="153.0" r="4.3"/><circle cx="263.5" cy="149.6" r="4.3"/><circle cx="246.3" cy="157.4" r="4.3"/><circle cx="192.2" cy="153.2" r="4.3"/><circle cx="260.7" cy="159.1" r="4.3"/><circle cx="238.1" cy="151.3" r="4.3"/><circle cx="202.6" cy="150.0" r="4.3"/><circle cx="270.3" cy="151.1" r="4.3"/><circle cx="182.0" cy="151.3" r="4.3"/><circle cx="196.8" cy="150.9" r="4.3"/><circle cx="229.9" cy="155.2" r="4.3"/><circle cx="187.4" cy="152.6" r="4.3"/><circle cx="173.8" cy="152.1" r="4.3"/><circle cx="250.6" cy="155.7" r="4.3"/><circle cx="261.8" cy="158.8" r="4.3"/><circle cx="197.5" cy="151.7" r="4.3"/><circle cx="249.5" cy="147.3" r="4.3"/><circle cx="203.8" cy="149.6" r="4.3"/><circle cx="210.8" cy="151.7" r="4.3"/><circle cx="189.0" cy="151.0" r="4.3"/><circle cx="215.4" cy="153.0" r="4.3"/><circle cx="190.5" cy="151.1" r="4.3"/><circle cx="241.7" cy="151.5" r="4.3"/><circle cx="198.6" cy="152.2" r="4.3"/><circle cx="231.3" cy="151.9" r="4.3"/><circle cx="220.7" cy="154.0" r="4.3"/><circle cx="206.5" cy="153.1" r="4.3"/><circle cx="154.2" cy="151.8" r="4.3"/><circle cx="192.7" cy="151.6" r="4.3"/><circle cx="179.3" cy="151.8" r="4.3"/><circle cx="192.5" cy="151.3" r="4.3"/><circle cx="235.2" cy="151.4" r="4.3"/><circle cx="227.7" cy="148.1" r="4.3"/><circle cx="158.7" cy="151.9" r="4.3"/><circle cx="200.7" cy="149.8" r="4.3"/><circle cx="164.9" cy="151.5" r="4.3"/><circle cx="174.3" cy="151.5" r="4.3"/><circle cx="203.2" cy="150.9" r="4.3"/><circle cx="183.7" cy="150.0" r="4.3"/><circle cx="174.8" cy="151.6" r="4.3"/><circle cx="239.5" cy="153.7" r="4.3"/><circle cx="164.3" cy="152.1" r="4.3"/><circle cx="238.6" cy="146.7" r="4.3"/><circle cx="210.4" cy="150.8" r="4.3"/><circle cx="170.9" cy="152.0" r="4.3"/><circle cx="166.2" cy="152.3" r="4.3"/><circle cx="234.4" cy="153.5" r="4.3"/><circle cx="187.5" cy="154.1" r="4.3"/><circle cx="236.8" cy="154.4" r="4.3"/><circle cx="158.5" cy="151.9" r="4.3"/><circle cx="198.4" cy="150.5" r="4.3"/><circle cx="200.9" cy="151.4" r="4.3"/><circle cx="235.4" cy="150.1" r="4.3"/><circle cx="163.1" cy="151.8" r="4.3"/><circle cx="196.4" cy="154.5" r="4.3"/><circle cx="215.6" cy="151.0" r="4.3"/><circle cx="212.1" cy="150.5" r="4.3"/><circle cx="186.8" cy="151.9" r="4.3"/><circle cx="262.3" cy="162.3" r="4.3"/><circle cx="253.1" cy="159.0" r="4.3"/><circle cx="204.7" cy="151.2" r="4.3"/><circle cx="218.0" cy="151.1" r="4.3"/><circle cx="217.2" cy="153.8" r="4.3"/><circle cx="222.8" cy="150.1" r="4.3"/><circle cx="250.7" cy="152.0" r="4.3"/><circle cx="180.3" cy="151.4" r="4.3"/><circle cx="204.1" cy="152.8" r="4.3"/><circle cx="212.5" cy="152.4" r="4.3"/><circle cx="187.7" cy="152.7" r="4.3"/><circle cx="226.6" cy="149.6" r="4.3"/><circle cx="205.9" cy="155.8" r="4.3"/><circle cx="162.2" cy="151.9" r="4.3"/><circle cx="185.7" cy="151.5" r="4.3"/><circle cx="218.6" cy="149.7" r="4.3"/><circle cx="238.0" cy="146.8" r="4.3"/><circle cx="239.4" cy="152.0" r="4.3"/><circle cx="201.5" cy="152.2" r="4.3"/><circle cx="219.4" cy="154.9" r="4.3"/><circle cx="266.2" cy="148.3" r="4.3"/><circle cx="244.3" cy="154.8" r="4.3"/><circle cx="238.9" cy="152.2" r="4.3"/><circle cx="209.6" cy="152.5" r="4.3"/><circle cx="230.6" cy="151.9" r="4.3"/><circle cx="170.9" cy="151.4" r="4.3"/><circle cx="215.7" cy="153.2" r="4.3"/><circle cx="181.9" cy="150.6" r="4.3"/><circle cx="207.3" cy="152.9" r="4.3"/><circle cx="231.2" cy="153.0" r="4.3"/><circle cx="186.5" cy="150.4" r="4.3"/><circle cx="248.6" cy="144.0" r="4.3"/><circle cx="196.8" cy="152.3" r="4.3"/><circle cx="226.3" cy="155.1" r="4.3"/><circle cx="239.4" cy="153.3" r="4.3"/><circle cx="215.1" cy="153.8" r="4.3"/><circle cx="213.0" cy="149.4" r="4.3"/><circle cx="205.6" cy="153.5" r="4.3"/><circle cx="222.4" cy="152.5" r="4.3"/><circle cx="180.2" cy="151.4" r="4.3"/><circle cx="158.4" cy="151.7" r="4.3"/><circle cx="182.9" cy="150.5" r="4.3"/><circle cx="254.0" cy="160.4" r="4.3"/><circle cx="170.1" cy="152.8" r="4.3"/><circle cx="247.9" cy="156.7" r="4.3"/><circle cx="165.9" cy="151.2" r="4.3"/><circle cx="180.3" cy="152.6" r="4.3"/><circle cx="152.4" cy="151.7" r="4.3"/><circle cx="194.2" cy="151.8" r="4.3"/><circle cx="190.6" cy="152.7" r="4.3"/><circle cx="244.7" cy="149.5" r="4.3"/><circle cx="215.5" cy="154.0" r="4.3"/><circle cx="171.8" cy="151.8" r="4.3"/><circle cx="231.1" cy="149.3" r="4.3"/><circle cx="208.5" cy="153.7" r="4.3"/><circle cx="162.0" cy="151.9" r="4.3"/><circle cx="162.4" cy="152.0" r="4.3"/><circle cx="200.0" cy="150.9" r="4.3"/><circle cx="237.3" cy="147.5" r="4.3"/><circle cx="169.2" cy="151.7" r="4.3"/><circle cx="236.9" cy="151.1" r="4.3"/><circle cx="188.8" cy="151.2" r="4.3"/><circle cx="251.5" cy="149.3" r="4.3"/><circle cx="233.2" cy="157.2" r="4.3"/><circle cx="238.9" cy="156.7" r="4.3"/><circle cx="183.3" cy="151.6" r="4.3"/><circle cx="244.2" cy="147.6" r="4.3"/><circle cx="259.5" cy="153.2" r="4.3"/><circle cx="167.2" cy="151.1" r="4.3"/><circle cx="185.8" cy="152.5" r="4.3"/><circle cx="209.9" cy="151.7" r="4.3"/><circle cx="226.5" cy="147.0" r="4.3"/><circle cx="165.0" cy="151.8" r="4.3"/><circle cx="265.1" cy="146.9" r="4.3"/><circle cx="181.6" cy="150.0" r="4.3"/><circle cx="181.1" cy="150.5" r="4.3"/><circle cx="196.0" cy="150.1" r="4.3"/><circle cx="201.7" cy="154.5" r="4.3"/><circle cx="214.8" cy="147.6" r="4.3"/><circle cx="242.1" cy="156.9" r="4.3"/><circle cx="204.7" cy="153.1" r="4.3"/><circle cx="173.2" cy="151.8" r="4.3"/><circle cx="224.8" cy="154.2" r="4.3"/><circle cx="198.6" cy="153.2" r="4.3"/><circle cx="228.1" cy="150.6" r="4.3"/><circle cx="194.6" cy="151.1" r="4.3"/><circle cx="276.2" cy="151.9" r="4.3"/><circle cx="273.4" cy="148.4" r="4.3"/><circle cx="265.0" cy="146.7" r="4.3"/><circle cx="271.4" cy="153.9" r="4.3"/><circle cx="274.7" cy="150.5" r="4.3"/><circle cx="274.4" cy="156.0" r="4.3"/><circle cx="273.7" cy="152.9" r="4.3"/><circle cx="270.3" cy="153.9" r="4.3"/><circle cx="277.0" cy="154.8" r="4.3"/><circle cx="264.2" cy="151.7" r="4.3"/><circle cx="267.0" cy="147.5" r="4.3"/><circle cx="265.4" cy="158.9" r="4.3"/><circle cx="150.4" cy="151.8" r="4.3"/><circle cx="150.7" cy="151.8" r="4.3"/><circle cx="151.0" cy="151.8" r="4.3"/><circle cx="151.4" cy="151.8" r="4.3"/><circle cx="151.7" cy="151.8" r="4.3"/><circle cx="152.0" cy="151.8" r="4.3"/><circle cx="152.3" cy="151.8" r="4.3"/><circle cx="152.6" cy="151.8" r="4.3"/><circle cx="152.9" cy="151.8" r="4.3"/><circle cx="153.2" cy="151.8" r="4.3"/><circle cx="153.6" cy="151.7" r="4.3"/><circle cx="153.9" cy="151.7" r="4.3"/><circle cx="154.2" cy="151.8" r="4.3"/><circle cx="154.5" cy="151.8" r="4.3"/><circle cx="154.8" cy="151.8" r="4.3"/><circle cx="155.1" cy="151.8" r="4.3"/><circle cx="155.4" cy="151.8" r="4.3"/><circle cx="155.8" cy="151.8" r="4.3"/><circle cx="156.1" cy="151.7" r="4.3"/><circle cx="156.4" cy="151.8" r="4.3"/><circle cx="156.7" cy="151.7" r="4.3"/><circle cx="157.0" cy="151.7" r="4.3"/><circle cx="157.3" cy="151.8" r="4.3"/><circle cx="157.7" cy="151.8" r="4.3"/><circle cx="158.0" cy="151.8" r="4.3"/></g>
<path d="M144.60 472.00V790.10M135.90 781.60H648.70M135.90 472.00H144.60M138.20 491.35H144.60M135.90 510.70H144.60M138.20 530.05H144.60M135.90 549.40H144.60M138.20 568.75H144.60M135.90 588.10H144.60M138.20 607.45H144.60M135.90 626.80H144.60M138.20 646.15H144.60M135.90 665.50H144.60M138.20 684.85H144.60M135.90 704.20H144.60M138.20 723.55H144.60M135.90 742.90H144.60M138.20 762.25H144.60M135.90 781.60H144.60M216.61 781.60V789.20M288.63 781.60V789.20M360.64 781.60V789.20M432.66 781.60V789.20M504.67 781.60V789.20M576.69 781.60V789.20M648.70 781.60V788.20" stroke="#1a1a1a" stroke-width="1.8" fill="none"/>
<text transform="translate(120.30 481.10) scale(1 1.06)" font-size="27.3" text-anchor="end">60</text>
<text transform="translate(120.30 519.80) scale(1 1.06)" font-size="27.3" text-anchor="end">40</text>
<text transform="translate(120.30 558.50) scale(1 1.06)" font-size="27.3" text-anchor="end">20</text>
<text transform="translate(120.30 597.20) scale(1 1.06)" font-size="27.3" text-anchor="end">0</text>
<text transform="translate(120.30 635.90) scale(1 1.06)" font-size="27.3" text-anchor="end">-20</text>
<text transform="translate(120.30 674.60) scale(1 1.06)" font-size="27.3" text-anchor="end">-40</text>
<text transform="translate(120.30 713.30) scale(1 1.06)" font-size="27.3" text-anchor="end">-60</text>
<text transform="translate(120.30 752.00) scale(1 1.06)" font-size="27.3" text-anchor="end">-80</text>
<text transform="translate(120.30 790.70) scale(1 1.06)" font-size="27.3" text-anchor="end">-100</text>
<text transform="translate(144.40 823.30) scale(1 1.06)" font-size="27.3" text-anchor="middle">0</text>
<text transform="translate(288.43 823.30) scale(1 1.06)" font-size="27.3" text-anchor="middle">1000</text>
<text transform="translate(432.46 823.30) scale(1 1.06)" font-size="27.3" text-anchor="middle">2000</text>
<text transform="translate(576.49 823.30) scale(1 1.06)" font-size="27.3" text-anchor="middle">3000</text>
<path d="M145.80 591.35H648.80" stroke="#1a1a1a" stroke-width="3.3" stroke-linecap="round" fill="none"/>
<path d="M145.60 549.80H638.85" stroke="#1a1a1a" stroke-width="2.5" stroke-linecap="round" stroke-dasharray="8.7 10.73" stroke-dashoffset="1.15" fill="none"/>
<path d="M145.60 633.30H638.85" stroke="#1a1a1a" stroke-width="2.5" stroke-linecap="round" stroke-dasharray="8.7 10.73" stroke-dashoffset="1.15" fill="none"/>
<g><circle cx="279.5" cy="511.0" r="4.3"/><circle cx="258.7" cy="520.1" r="4.3"/><circle cx="274.6" cy="527.4" r="4.3"/><circle cx="286.3" cy="537.2" r="4.3"/><circle cx="291.7" cy="544.5" r="4.3"/><circle cx="302.8" cy="534.7" r="4.3"/><circle cx="267.2" cy="544.5" r="4.3"/><circle cx="218.8" cy="539.1" r="4.3"/><circle cx="228.6" cy="546.5" r="4.3"/><circle cx="224.4" cy="550.2" r="4.3"/><circle cx="237.9" cy="551.9" r="4.3"/><circle cx="253.0" cy="550.9" r="4.3"/><circle cx="261.1" cy="551.9" r="4.3"/><circle cx="173.5" cy="551.9" r="4.3"/><circle cx="205.6" cy="559.2" r="4.3"/><circle cx="215.4" cy="558.7" r="4.3"/><circle cx="223.2" cy="558.7" r="4.3"/><circle cx="229.3" cy="559.9" r="4.3"/><circle cx="186.5" cy="564.1" r="4.3"/><circle cx="176.7" cy="568.0" r="4.3"/><circle cx="160.8" cy="572.2" r="4.3"/><circle cx="291.7" cy="564.1" r="4.3"/><circle cx="278.2" cy="568.5" r="4.3"/><circle cx="283.1" cy="571.4" r="4.3"/><circle cx="294.1" cy="574.6" r="4.3"/><circle cx="240.3" cy="561.2" r="4.3"/><circle cx="251.3" cy="558.7" r="4.3"/><circle cx="257.4" cy="564.1" r="4.3"/><circle cx="266.0" cy="572.2" r="4.3"/><circle cx="176.7" cy="612.5" r="4.3"/><circle cx="185.3" cy="612.5" r="4.3"/><circle cx="182.8" cy="618.7" r="4.3"/><circle cx="196.8" cy="619.9" r="4.3"/><circle cx="206.1" cy="618.7" r="4.3"/><circle cx="217.1" cy="621.1" r="4.3"/><circle cx="228.6" cy="619.1" r="4.3"/><circle cx="214.6" cy="613.0" r="4.3"/><circle cx="222.0" cy="613.0" r="4.3"/><circle cx="240.3" cy="624.0" r="4.3"/><circle cx="247.6" cy="632.1" r="4.3"/><circle cx="188.2" cy="632.1" r="4.3"/><circle cx="206.1" cy="635.8" r="4.3"/><circle cx="223.7" cy="643.1" r="4.3"/><circle cx="231.7" cy="641.9" r="4.3"/><circle cx="196.3" cy="649.2" r="4.3"/><circle cx="188.2" cy="672.0" r="4.3"/><circle cx="218.3" cy="677.9" r="4.3"/><circle cx="244.7" cy="672.0" r="4.3"/><circle cx="261.1" cy="623.5" r="4.3"/><circle cx="272.1" cy="626.7" r="4.3"/><circle cx="281.9" cy="619.9" r="4.3"/><circle cx="278.2" cy="615.0" r="4.3"/><circle cx="274.1" cy="637.5" r="4.3"/><circle cx="277.0" cy="633.3" r="4.3"/><circle cx="288.7" cy="638.7" r="4.3"/><circle cx="294.6" cy="641.2" r="4.3"/><circle cx="303.0" cy="618.5" r="4.3"/><circle cx="292.9" cy="600.3" r="4.3"/><circle cx="284.3" cy="595.4" r="4.3"/><circle cx="301.5" cy="587.9" r="4.3"/><circle cx="290.5" cy="585.6" r="4.3"/><circle cx="313.5" cy="501.5" r="4.3"/><circle cx="313.8" cy="541.4" r="4.3"/><circle cx="307.4" cy="555.6" r="4.3"/><circle cx="338.0" cy="561.7" r="4.3"/><circle cx="301.5" cy="581.0" r="4.3"/><circle cx="371.0" cy="581.3" r="4.3"/><circle cx="289.8" cy="585.4" r="4.3"/><circle cx="283.7" cy="587.9" r="4.3"/><circle cx="339.2" cy="589.8" r="4.3"/><circle cx="355.8" cy="594.0" r="4.3"/><circle cx="330.2" cy="595.9" r="4.3"/><circle cx="303.7" cy="597.2" r="4.3"/><circle cx="289.8" cy="595.2" r="4.3"/><circle cx="319.1" cy="605.7" r="4.3"/><circle cx="399.9" cy="606.9" r="4.3"/><circle cx="311.1" cy="617.2" r="4.3"/><circle cx="323.5" cy="619.7" r="4.3"/><circle cx="313.0" cy="629.9" r="4.3"/><circle cx="316.7" cy="632.4" r="4.3"/><circle cx="302.8" cy="638.5" r="4.3"/><circle cx="312.5" cy="650.2" r="4.3"/><circle cx="370.0" cy="641.0" r="4.3"/><circle cx="416.5" cy="645.8" r="4.3"/><circle cx="277.2" cy="573.7" r="4.3"/><circle cx="263.1" cy="570.7" r="4.3"/><circle cx="292.5" cy="591.5" r="4.3"/><circle cx="269.3" cy="580.5" r="4.3"/><circle cx="274.1" cy="582.9" r="4.3"/><circle cx="277.8" cy="586.6" r="4.3"/><circle cx="271.7" cy="587.8" r="4.3"/><circle cx="275.4" cy="591.5" r="4.3"/><circle cx="269.9" cy="593.9" r="4.3"/><circle cx="266.2" cy="590.3" r="4.3"/><circle cx="261.9" cy="600.0" r="4.3"/><circle cx="265.6" cy="602.5" r="4.3"/><circle cx="275.4" cy="606.2" r="4.3"/><circle cx="269.3" cy="608.6" r="4.3"/><circle cx="265.6" cy="611.7" r="4.3"/><circle cx="271.7" cy="620.8" r="4.3"/><circle cx="253.3" cy="616.0" r="4.3"/><circle cx="259.5" cy="618.4" r="4.3"/><circle cx="245.4" cy="615.3" r="4.3"/><circle cx="254.6" cy="608.6" r="4.3"/><circle cx="249.7" cy="603.7" r="4.3"/><circle cx="330.2" cy="669.3" r="4.3"/><circle cx="389.4" cy="691.3" r="4.3"/><circle cx="364.7" cy="741.1" r="4.3"/><circle cx="467.2" cy="749.0" r="4.3"/><circle cx="519.2" cy="730.2" r="4.3"/><circle cx="494.4" cy="580.6" r="4.3"/><circle cx="601.4" cy="580.2" r="4.3"/><circle cx="567.0" cy="628.0" r="4.3"/><circle cx="177.0" cy="597.0" r="4.3"/><circle cx="202.9" cy="590.8" r="4.3"/><circle cx="230.7" cy="608.6" r="4.3"/><circle cx="238.6" cy="610.3" r="4.3"/><circle cx="212.8" cy="595.2" r="4.3"/><circle cx="248.7" cy="598.5" r="4.3"/><circle cx="231.2" cy="598.2" r="4.3"/><circle cx="245.4" cy="585.5" r="4.3"/><circle cx="186.0" cy="584.1" r="4.3"/><circle cx="226.3" cy="589.4" r="4.3"/><circle cx="151.2" cy="585.7" r="4.3"/><circle cx="213.3" cy="595.1" r="4.3"/><circle cx="236.6" cy="571.0" r="4.3"/><circle cx="223.1" cy="582.2" r="4.3"/><circle cx="162.8" cy="577.2" r="4.3"/><circle cx="173.3" cy="583.3" r="4.3"/><circle cx="160.5" cy="582.7" r="4.3"/><circle cx="192.4" cy="606.0" r="4.3"/><circle cx="191.3" cy="595.0" r="4.3"/><circle cx="149.2" cy="590.3" r="4.3"/><circle cx="171.5" cy="595.2" r="4.3"/><circle cx="182.0" cy="582.9" r="4.3"/><circle cx="230.8" cy="584.8" r="4.3"/><circle cx="166.0" cy="597.1" r="4.3"/><circle cx="248.9" cy="585.4" r="4.3"/><circle cx="209.6" cy="593.7" r="4.3"/><circle cx="217.7" cy="576.9" r="4.3"/><circle cx="187.2" cy="581.2" r="4.3"/><circle cx="154.7" cy="587.8" r="4.3"/><circle cx="201.0" cy="603.9" r="4.3"/><circle cx="249.9" cy="609.0" r="4.3"/><circle cx="246.6" cy="600.4" r="4.3"/><circle cx="177.5" cy="574.7" r="4.3"/><circle cx="193.7" cy="574.7" r="4.3"/><circle cx="187.1" cy="590.4" r="4.3"/><circle cx="216.4" cy="587.8" r="4.3"/><circle cx="214.7" cy="574.6" r="4.3"/><circle cx="200.0" cy="578.1" r="4.3"/><circle cx="262.7" cy="581.0" r="4.3"/><circle cx="234.2" cy="576.6" r="4.3"/><circle cx="241.9" cy="588.6" r="4.3"/><circle cx="222.9" cy="579.7" r="4.3"/><circle cx="210.6" cy="600.9" r="4.3"/><circle cx="184.9" cy="585.3" r="4.3"/><circle cx="240.1" cy="580.3" r="4.3"/><circle cx="153.5" cy="586.9" r="4.3"/><circle cx="183.5" cy="604.9" r="4.3"/><circle cx="170.7" cy="586.3" r="4.3"/><circle cx="258.4" cy="577.0" r="4.3"/><circle cx="251.3" cy="580.0" r="4.3"/><circle cx="187.0" cy="585.6" r="4.3"/><circle cx="167.0" cy="594.0" r="4.3"/><circle cx="253.0" cy="605.1" r="4.3"/><circle cx="200.0" cy="602.0" r="4.3"/><circle cx="193.8" cy="589.2" r="4.3"/><circle cx="239.7" cy="582.1" r="4.3"/><circle cx="164.1" cy="588.3" r="4.3"/><circle cx="183.8" cy="596.3" r="4.3"/><circle cx="174.5" cy="596.9" r="4.3"/><circle cx="229.8" cy="580.0" r="4.3"/><circle cx="227.1" cy="583.0" r="4.3"/><circle cx="171.6" cy="587.2" r="4.3"/><circle cx="172.7" cy="591.2" r="4.3"/><circle cx="185.9" cy="578.7" r="4.3"/><circle cx="192.8" cy="579.3" r="4.3"/><circle cx="225.0" cy="588.6" r="4.3"/><circle cx="155.6" cy="587.4" r="4.3"/><circle cx="179.5" cy="588.2" r="4.3"/><circle cx="207.9" cy="595.7" r="4.3"/><circle cx="258.0" cy="580.6" r="4.3"/><circle cx="225.1" cy="589.3" r="4.3"/><circle cx="246.2" cy="569.0" r="4.3"/><circle cx="197.1" cy="577.3" r="4.3"/><circle cx="177.6" cy="599.8" r="4.3"/><circle cx="254.9" cy="589.0" r="4.3"/><circle cx="224.1" cy="605.7" r="4.3"/><circle cx="216.1" cy="586.5" r="4.3"/><circle cx="159.8" cy="589.7" r="4.3"/><circle cx="155.0" cy="589.1" r="4.3"/><circle cx="216.1" cy="593.9" r="4.3"/><circle cx="148.6" cy="588.3" r="4.3"/><circle cx="222.0" cy="585.1" r="4.3"/><circle cx="156.5" cy="580.6" r="4.3"/><circle cx="179.1" cy="578.2" r="4.3"/><circle cx="230.3" cy="588.4" r="4.3"/><circle cx="263.3" cy="584.8" r="4.3"/><circle cx="201.2" cy="592.9" r="4.3"/><circle cx="175.5" cy="588.7" r="4.3"/><circle cx="212.3" cy="580.5" r="4.3"/><circle cx="194.4" cy="588.4" r="4.3"/><circle cx="215.4" cy="604.0" r="4.3"/><circle cx="211.2" cy="585.6" r="4.3"/><circle cx="176.2" cy="584.1" r="4.3"/><circle cx="246.7" cy="586.6" r="4.3"/><circle cx="209.4" cy="584.5" r="4.3"/><circle cx="187.7" cy="598.5" r="4.3"/><circle cx="238.7" cy="580.9" r="4.3"/><circle cx="220.4" cy="598.4" r="4.3"/><circle cx="157.3" cy="584.5" r="4.3"/><circle cx="256.1" cy="609.7" r="4.3"/><circle cx="217.8" cy="591.0" r="4.3"/><circle cx="165.2" cy="592.5" r="4.3"/><circle cx="162.4" cy="593.5" r="4.3"/><circle cx="212.3" cy="589.9" r="4.3"/><circle cx="205.9" cy="589.6" r="4.3"/><circle cx="207.6" cy="600.2" r="4.3"/><circle cx="229.6" cy="578.7" r="4.3"/><circle cx="191.4" cy="590.2" r="4.3"/><circle cx="224.3" cy="602.7" r="4.3"/><circle cx="150.0" cy="590.3" r="4.3"/><circle cx="208.4" cy="583.6" r="4.3"/><circle cx="240.6" cy="590.5" r="4.3"/><circle cx="217.3" cy="586.5" r="4.3"/><circle cx="176.5" cy="590.0" r="4.3"/><circle cx="206.8" cy="592.0" r="4.3"/><circle cx="150.3" cy="585.4" r="4.3"/><circle cx="197.1" cy="583.1" r="4.3"/><circle cx="202.8" cy="591.5" r="4.3"/><circle cx="224.8" cy="587.8" r="4.3"/><circle cx="192.7" cy="592.5" r="4.3"/><circle cx="239.5" cy="602.3" r="4.3"/><circle cx="212.1" cy="599.4" r="4.3"/><circle cx="188.5" cy="588.6" r="4.3"/><circle cx="167.0" cy="583.0" r="4.3"/><circle cx="192.3" cy="583.7" r="4.3"/><circle cx="172.7" cy="600.3" r="4.3"/><circle cx="174.9" cy="577.1" r="4.3"/><circle cx="175.3" cy="590.7" r="4.3"/><circle cx="208.1" cy="589.1" r="4.3"/><circle cx="262.4" cy="569.2" r="4.3"/><circle cx="231.2" cy="584.5" r="4.3"/><circle cx="183.1" cy="599.8" r="4.3"/><circle cx="176.5" cy="596.5" r="4.3"/><circle cx="245.3" cy="589.9" r="4.3"/><circle cx="149.5" cy="591.4" r="4.3"/><circle cx="196.5" cy="576.4" r="4.3"/><circle cx="248.7" cy="587.1" r="4.3"/><circle cx="155.2" cy="590.5" r="4.3"/><circle cx="176.0" cy="580.8" r="4.3"/><circle cx="217.3" cy="593.5" r="4.3"/><circle cx="237.3" cy="592.8" r="4.3"/><circle cx="218.8" cy="602.9" r="4.3"/><circle cx="253.3" cy="579.6" r="4.3"/><circle cx="180.5" cy="594.2" r="4.3"/><circle cx="233.6" cy="586.7" r="4.3"/><circle cx="163.2" cy="590.6" r="4.3"/><circle cx="222.2" cy="592.2" r="4.3"/><circle cx="172.8" cy="590.4" r="4.3"/><circle cx="175.1" cy="604.9" r="4.3"/><circle cx="257.9" cy="588.4" r="4.3"/><circle cx="226.3" cy="595.4" r="4.3"/><circle cx="251.6" cy="571.8" r="4.3"/><circle cx="161.2" cy="582.3" r="4.3"/><circle cx="243.5" cy="600.4" r="4.3"/><circle cx="223.5" cy="595.2" r="4.3"/><circle cx="207.4" cy="586.4" r="4.3"/><circle cx="255.6" cy="591.0" r="4.3"/><circle cx="181.1" cy="593.9" r="4.3"/><circle cx="242.6" cy="593.3" r="4.3"/><circle cx="219.4" cy="575.5" r="4.3"/><circle cx="256.9" cy="606.5" r="4.3"/><circle cx="195.8" cy="574.1" r="4.3"/><circle cx="234.0" cy="596.2" r="4.3"/><circle cx="241.4" cy="572.7" r="4.3"/><circle cx="174.9" cy="587.8" r="4.3"/><circle cx="237.5" cy="584.7" r="4.3"/><circle cx="147.8" cy="593.8" r="4.3"/><circle cx="242.5" cy="588.3" r="4.3"/><circle cx="175.0" cy="586.2" r="4.3"/><circle cx="216.9" cy="585.5" r="4.3"/><circle cx="199.5" cy="600.3" r="4.3"/><circle cx="204.2" cy="582.1" r="4.3"/><circle cx="171.7" cy="593.8" r="4.3"/><circle cx="218.6" cy="595.6" r="4.3"/><circle cx="219.9" cy="587.1" r="4.3"/><circle cx="172.7" cy="587.1" r="4.3"/><circle cx="203.4" cy="576.4" r="4.3"/><circle cx="168.2" cy="584.5" r="4.3"/><circle cx="149.8" cy="586.5" r="4.3"/><circle cx="227.4" cy="583.8" r="4.3"/><circle cx="246.9" cy="588.3" r="4.3"/><circle cx="248.7" cy="597.7" r="4.3"/><circle cx="192.1" cy="577.7" r="4.3"/><circle cx="155.9" cy="590.3" r="4.3"/><circle cx="186.1" cy="586.0" r="4.3"/><circle cx="265.9" cy="593.5" r="4.3"/><circle cx="228.1" cy="601.2" r="4.3"/><circle cx="196.8" cy="573.6" r="4.3"/><circle cx="249.4" cy="568.0" r="4.3"/><circle cx="209.7" cy="579.8" r="4.3"/><circle cx="218.3" cy="578.3" r="4.3"/><circle cx="213.4" cy="595.9" r="4.3"/><circle cx="184.5" cy="593.5" r="4.3"/><circle cx="163.6" cy="583.4" r="4.3"/><circle cx="160.0" cy="583.1" r="4.3"/><circle cx="164.6" cy="582.9" r="4.3"/><circle cx="186.9" cy="594.2" r="4.3"/><circle cx="226.6" cy="589.6" r="4.3"/><circle cx="156.9" cy="585.7" r="4.3"/><circle cx="170.4" cy="577.7" r="4.3"/><circle cx="179.6" cy="595.5" r="4.3"/><circle cx="174.2" cy="595.9" r="4.3"/><circle cx="214.0" cy="592.4" r="4.3"/><circle cx="228.1" cy="578.8" r="4.3"/><circle cx="219.0" cy="582.1" r="4.3"/><circle cx="186.5" cy="598.4" r="4.3"/><circle cx="250.6" cy="576.1" r="4.3"/><circle cx="163.2" cy="578.0" r="4.3"/><circle cx="182.8" cy="576.8" r="4.3"/><circle cx="174.4" cy="590.0" r="4.3"/><circle cx="151.9" cy="583.5" r="4.3"/><circle cx="211.9" cy="576.8" r="4.3"/><circle cx="183.8" cy="592.8" r="4.3"/><circle cx="156.2" cy="596.5" r="4.3"/><circle cx="187.3" cy="586.4" r="4.3"/><circle cx="234.4" cy="594.6" r="4.3"/><circle cx="196.5" cy="590.2" r="4.3"/><circle cx="149.0" cy="590.1" r="4.3"/><circle cx="184.2" cy="578.7" r="4.3"/><circle cx="178.1" cy="589.7" r="4.3"/><circle cx="149.2" cy="589.2" r="4.3"/><circle cx="179.4" cy="591.6" r="4.3"/><circle cx="167.0" cy="585.1" r="4.3"/><circle cx="192.2" cy="583.9" r="4.3"/><circle cx="208.9" cy="573.7" r="4.3"/><circle cx="227.9" cy="592.7" r="4.3"/><circle cx="199.5" cy="588.5" r="4.3"/><circle cx="262.5" cy="606.8" r="4.3"/><circle cx="225.5" cy="585.7" r="4.3"/><circle cx="257.9" cy="602.2" r="4.3"/><circle cx="232.7" cy="597.7" r="4.3"/><circle cx="227.9" cy="578.9" r="4.3"/><circle cx="227.8" cy="589.9" r="4.3"/><circle cx="176.1" cy="574.8" r="4.3"/><circle cx="154.2" cy="586.4" r="4.3"/><circle cx="196.3" cy="591.5" r="4.3"/><circle cx="193.5" cy="594.7" r="4.3"/><circle cx="187.3" cy="595.4" r="4.3"/><circle cx="198.0" cy="591.6" r="4.3"/><circle cx="253.5" cy="582.0" r="4.3"/><circle cx="264.4" cy="586.9" r="4.3"/><circle cx="216.3" cy="593.2" r="4.3"/><circle cx="153.8" cy="591.8" r="4.3"/><circle cx="156.3" cy="589.1" r="4.3"/><circle cx="153.1" cy="592.2" r="4.3"/><circle cx="215.9" cy="589.4" r="4.3"/><circle cx="172.6" cy="596.2" r="4.3"/><circle cx="228.8" cy="577.4" r="4.3"/><circle cx="181.3" cy="600.8" r="4.3"/><circle cx="249.3" cy="573.2" r="4.3"/><circle cx="215.8" cy="591.5" r="4.3"/><circle cx="184.2" cy="586.0" r="4.3"/><circle cx="147.7" cy="591.2" r="4.3"/><circle cx="261.1" cy="577.8" r="4.3"/><circle cx="229.2" cy="608.4" r="4.3"/><circle cx="169.8" cy="593.5" r="4.3"/><circle cx="218.8" cy="585.6" r="4.3"/><circle cx="160.4" cy="596.3" r="4.3"/><circle cx="226.4" cy="581.2" r="4.3"/><circle cx="197.1" cy="574.9" r="4.3"/><circle cx="161.7" cy="590.1" r="4.3"/><circle cx="153.8" cy="588.8" r="4.3"/><circle cx="200.3" cy="588.7" r="4.3"/><circle cx="172.4" cy="586.3" r="4.3"/><circle cx="190.9" cy="571.1" r="4.3"/><circle cx="172.6" cy="573.9" r="4.3"/><circle cx="157.2" cy="593.0" r="4.3"/><circle cx="218.1" cy="583.0" r="4.3"/><circle cx="211.9" cy="586.7" r="4.3"/><circle cx="244.1" cy="589.0" r="4.3"/><circle cx="221.7" cy="583.0" r="4.3"/><circle cx="258.9" cy="582.6" r="4.3"/><circle cx="153.3" cy="593.5" r="4.3"/><circle cx="234.5" cy="585.4" r="4.3"/><circle cx="247.0" cy="590.1" r="4.3"/><circle cx="195.6" cy="578.7" r="4.3"/><circle cx="218.3" cy="580.6" r="4.3"/><circle cx="156.8" cy="588.9" r="4.3"/><circle cx="170.3" cy="582.7" r="4.3"/><circle cx="212.7" cy="572.5" r="4.3"/><circle cx="175.5" cy="584.2" r="4.3"/><circle cx="192.1" cy="600.4" r="4.3"/><circle cx="228.0" cy="593.3" r="4.3"/><circle cx="260.9" cy="582.3" r="4.3"/><circle cx="232.7" cy="579.0" r="4.3"/><circle cx="194.8" cy="606.4" r="4.3"/><circle cx="159.1" cy="590.1" r="4.3"/><circle cx="190.5" cy="589.1" r="4.3"/><circle cx="261.7" cy="604.2" r="4.3"/><circle cx="218.8" cy="594.8" r="4.3"/><circle cx="187.2" cy="581.3" r="4.3"/><circle cx="239.9" cy="575.6" r="4.3"/><circle cx="173.3" cy="588.2" r="4.3"/><circle cx="173.6" cy="580.9" r="4.3"/><circle cx="172.4" cy="593.9" r="4.3"/><circle cx="209.4" cy="583.1" r="4.3"/><circle cx="221.5" cy="587.9" r="4.3"/><circle cx="214.5" cy="594.5" r="4.3"/><circle cx="218.7" cy="594.4" r="4.3"/><circle cx="179.9" cy="593.7" r="4.3"/><circle cx="178.6" cy="589.8" r="4.3"/><circle cx="225.7" cy="580.3" r="4.3"/><circle cx="232.2" cy="602.5" r="4.3"/><circle cx="190.1" cy="591.3" r="4.3"/><circle cx="184.7" cy="582.3" r="4.3"/><circle cx="150.1" cy="591.5" r="4.3"/><circle cx="234.0" cy="569.6" r="4.3"/><circle cx="178.9" cy="592.4" r="4.3"/><circle cx="184.3" cy="589.8" r="4.3"/><circle cx="202.0" cy="605.1" r="4.3"/><circle cx="226.6" cy="599.4" r="4.3"/><circle cx="220.9" cy="593.7" r="4.3"/><circle cx="181.2" cy="597.7" r="4.3"/><circle cx="171.9" cy="581.9" r="4.3"/><circle cx="228.7" cy="579.3" r="4.3"/><circle cx="179.2" cy="579.3" r="4.3"/><circle cx="190.7" cy="574.3" r="4.3"/><circle cx="203.6" cy="597.0" r="4.3"/><circle cx="228.5" cy="605.5" r="4.3"/><circle cx="188.0" cy="578.1" r="4.3"/><circle cx="194.4" cy="591.1" r="4.3"/><circle cx="171.8" cy="578.6" r="4.3"/><circle cx="252.7" cy="601.6" r="4.3"/><circle cx="229.2" cy="599.5" r="4.3"/><circle cx="195.5" cy="598.3" r="4.3"/><circle cx="260.2" cy="578.3" r="4.3"/><circle cx="216.8" cy="600.6" r="4.3"/><circle cx="179.6" cy="597.0" r="4.3"/><circle cx="200.5" cy="593.3" r="4.3"/><circle cx="195.1" cy="587.3" r="4.3"/><circle cx="245.0" cy="587.9" r="4.3"/><circle cx="161.5" cy="595.4" r="4.3"/><circle cx="156.4" cy="586.8" r="4.3"/><circle cx="211.1" cy="585.1" r="4.3"/><circle cx="210.9" cy="596.8" r="4.3"/><circle cx="167.3" cy="594.4" r="4.3"/><circle cx="185.4" cy="597.6" r="4.3"/><circle cx="229.2" cy="591.1" r="4.3"/><circle cx="215.6" cy="588.5" r="4.3"/><circle cx="242.9" cy="585.3" r="4.3"/><circle cx="165.9" cy="587.2" r="4.3"/><circle cx="198.1" cy="594.1" r="4.3"/><circle cx="175.8" cy="593.2" r="4.3"/><circle cx="229.6" cy="586.9" r="4.3"/><circle cx="210.1" cy="591.0" r="4.3"/><circle cx="187.2" cy="572.7" r="4.3"/><circle cx="220.8" cy="595.7" r="4.3"/><circle cx="172.1" cy="577.5" r="4.3"/><circle cx="198.1" cy="577.7" r="4.3"/><circle cx="159.7" cy="580.7" r="4.3"/><circle cx="226.3" cy="594.2" r="4.3"/><circle cx="180.1" cy="595.9" r="4.3"/><circle cx="245.0" cy="590.7" r="4.3"/><circle cx="183.3" cy="603.1" r="4.3"/><circle cx="153.3" cy="584.8" r="4.3"/><circle cx="225.9" cy="601.3" r="4.3"/><circle cx="246.3" cy="577.8" r="4.3"/><circle cx="178.7" cy="598.5" r="4.3"/><circle cx="166.3" cy="588.9" r="4.3"/><circle cx="253.0" cy="603.5" r="4.3"/><circle cx="237.0" cy="582.3" r="4.3"/><circle cx="248.5" cy="596.3" r="4.3"/><circle cx="172.5" cy="585.7" r="4.3"/><circle cx="178.0" cy="581.0" r="4.3"/><circle cx="217.2" cy="592.6" r="4.3"/><circle cx="184.3" cy="582.0" r="4.3"/><circle cx="188.5" cy="576.5" r="4.3"/><circle cx="172.9" cy="582.2" r="4.3"/><circle cx="178.0" cy="586.0" r="4.3"/><circle cx="196.6" cy="587.4" r="4.3"/><circle cx="190.4" cy="588.1" r="4.3"/><circle cx="193.0" cy="576.6" r="4.3"/><circle cx="201.0" cy="595.6" r="4.3"/><circle cx="240.6" cy="583.0" r="4.3"/><circle cx="157.6" cy="593.3" r="4.3"/><circle cx="157.5" cy="590.6" r="4.3"/><circle cx="200.2" cy="583.1" r="4.3"/><circle cx="231.4" cy="604.7" r="4.3"/><circle cx="170.7" cy="581.1" r="4.3"/><circle cx="242.3" cy="602.0" r="4.3"/><circle cx="177.1" cy="589.5" r="4.3"/><circle cx="180.2" cy="587.4" r="4.3"/><circle cx="162.8" cy="585.8" r="4.3"/><circle cx="232.2" cy="575.6" r="4.3"/><circle cx="226.3" cy="592.5" r="4.3"/><circle cx="151.3" cy="582.5" r="4.3"/><circle cx="196.8" cy="581.4" r="4.3"/><circle cx="241.4" cy="576.4" r="4.3"/><circle cx="179.7" cy="596.0" r="4.3"/><circle cx="205.1" cy="586.7" r="4.3"/><circle cx="162.7" cy="579.4" r="4.3"/><circle cx="198.3" cy="603.5" r="4.3"/><circle cx="169.5" cy="592.6" r="4.3"/><circle cx="247.2" cy="586.1" r="4.3"/><circle cx="244.6" cy="578.0" r="4.3"/><circle cx="176.4" cy="582.5" r="4.3"/><circle cx="215.8" cy="581.5" r="4.3"/><circle cx="240.6" cy="593.1" r="4.3"/><circle cx="158.3" cy="593.3" r="4.3"/><circle cx="185.7" cy="592.2" r="4.3"/><circle cx="178.6" cy="575.4" r="4.3"/><circle cx="188.1" cy="587.9" r="4.3"/><circle cx="165.0" cy="590.5" r="4.3"/><circle cx="242.0" cy="583.0" r="4.3"/><circle cx="207.5" cy="575.2" r="4.3"/><circle cx="247.4" cy="588.0" r="4.3"/><circle cx="233.5" cy="589.9" r="4.3"/><circle cx="199.5" cy="575.9" r="4.3"/><circle cx="223.6" cy="582.3" r="4.3"/><circle cx="209.7" cy="580.0" r="4.3"/><circle cx="187.8" cy="585.5" r="4.3"/><circle cx="192.7" cy="587.8" r="4.3"/><circle cx="170.7" cy="581.8" r="4.3"/><circle cx="159.5" cy="591.1" r="4.3"/><circle cx="194.6" cy="578.6" r="4.3"/><circle cx="162.6" cy="585.2" r="4.3"/><circle cx="185.9" cy="592.4" r="4.3"/><circle cx="215.7" cy="594.3" r="4.3"/><circle cx="240.9" cy="582.7" r="4.3"/><circle cx="177.3" cy="578.4" r="4.3"/><circle cx="254.5" cy="570.0" r="4.3"/><circle cx="181.1" cy="585.1" r="4.3"/><circle cx="190.2" cy="590.7" r="4.3"/><circle cx="157.5" cy="586.1" r="4.3"/><circle cx="200.8" cy="595.8" r="4.3"/><circle cx="207.2" cy="594.1" r="4.3"/><circle cx="178.7" cy="591.8" r="4.3"/><circle cx="157.8" cy="582.8" r="4.3"/><circle cx="160.2" cy="591.2" r="4.3"/><circle cx="188.1" cy="597.8" r="4.3"/><circle cx="194.6" cy="577.1" r="4.3"/><circle cx="164.5" cy="595.7" r="4.3"/><circle cx="166.9" cy="587.2" r="4.3"/><circle cx="232.0" cy="601.9" r="4.3"/><circle cx="258.0" cy="569.7" r="4.3"/><circle cx="156.4" cy="585.6" r="4.3"/><circle cx="173.9" cy="585.6" r="4.3"/><circle cx="178.3" cy="592.5" r="4.3"/><circle cx="155.9" cy="587.5" r="4.3"/><circle cx="194.0" cy="582.4" r="4.3"/><circle cx="170.0" cy="577.6" r="4.3"/><circle cx="213.1" cy="576.1" r="4.3"/><circle cx="199.9" cy="599.4" r="4.3"/><circle cx="159.1" cy="589.3" r="4.3"/><circle cx="215.3" cy="587.5" r="4.3"/><circle cx="183.6" cy="595.2" r="4.3"/><circle cx="203.3" cy="583.5" r="4.3"/><circle cx="186.4" cy="589.1" r="4.3"/><circle cx="217.1" cy="573.9" r="4.3"/><circle cx="222.0" cy="597.2" r="4.3"/><circle cx="264.8" cy="603.2" r="4.3"/><circle cx="230.7" cy="589.2" r="4.3"/><circle cx="219.0" cy="599.3" r="4.3"/><circle cx="207.6" cy="586.3" r="4.3"/><circle cx="183.1" cy="576.2" r="4.3"/><circle cx="226.6" cy="576.0" r="4.3"/><circle cx="231.8" cy="595.1" r="4.3"/><circle cx="173.1" cy="587.0" r="4.3"/><circle cx="223.0" cy="591.1" r="4.3"/><circle cx="154.8" cy="591.1" r="4.3"/><circle cx="179.2" cy="587.5" r="4.3"/><circle cx="186.4" cy="595.5" r="4.3"/><circle cx="199.4" cy="589.6" r="4.3"/><circle cx="224.2" cy="590.5" r="4.3"/><circle cx="177.9" cy="595.7" r="4.3"/><circle cx="161.0" cy="590.2" r="4.3"/><circle cx="181.3" cy="586.7" r="4.3"/><circle cx="202.4" cy="582.9" r="4.3"/><circle cx="203.8" cy="591.7" r="4.3"/><circle cx="223.6" cy="573.3" r="4.3"/><circle cx="154.3" cy="594.3" r="4.3"/><circle cx="224.0" cy="590.2" r="4.3"/><circle cx="195.3" cy="583.6" r="4.3"/><circle cx="189.8" cy="584.2" r="4.3"/><circle cx="257.6" cy="592.6" r="4.3"/><circle cx="161.0" cy="596.6" r="4.3"/><circle cx="258.8" cy="590.4" r="4.3"/><circle cx="185.0" cy="581.5" r="4.3"/><circle cx="150.2" cy="586.6" r="4.3"/><circle cx="207.5" cy="594.9" r="4.3"/><circle cx="251.8" cy="602.4" r="4.3"/><circle cx="225.1" cy="591.1" r="4.3"/><circle cx="243.8" cy="580.2" r="4.3"/><circle cx="184.9" cy="595.1" r="4.3"/><circle cx="223.7" cy="603.7" r="4.3"/><circle cx="233.9" cy="589.9" r="4.3"/><circle cx="162.8" cy="594.2" r="4.3"/><circle cx="182.3" cy="592.6" r="4.3"/><circle cx="201.4" cy="586.6" r="4.3"/><circle cx="156.5" cy="580.9" r="4.3"/><circle cx="174.6" cy="578.7" r="4.3"/><circle cx="168.6" cy="592.3" r="4.3"/><circle cx="193.1" cy="584.2" r="4.3"/><circle cx="176.0" cy="586.1" r="4.3"/><circle cx="200.9" cy="588.4" r="4.3"/><circle cx="185.9" cy="573.4" r="4.3"/><circle cx="202.9" cy="597.9" r="4.3"/><circle cx="175.1" cy="594.3" r="4.3"/><circle cx="175.9" cy="591.5" r="4.3"/><circle cx="182.3" cy="593.4" r="4.3"/><circle cx="236.6" cy="580.9" r="4.3"/><circle cx="227.8" cy="576.4" r="4.3"/><circle cx="151.5" cy="588.8" r="4.3"/><circle cx="229.5" cy="583.5" r="4.3"/><circle cx="154.3" cy="585.0" r="4.3"/><circle cx="201.2" cy="589.5" r="4.3"/><circle cx="172.9" cy="591.7" r="4.3"/><circle cx="214.8" cy="591.3" r="4.3"/><circle cx="214.1" cy="594.1" r="4.3"/><circle cx="188.6" cy="584.9" r="4.3"/><circle cx="258.3" cy="593.6" r="4.3"/><circle cx="205.3" cy="583.8" r="4.3"/><circle cx="181.9" cy="583.4" r="4.3"/><circle cx="200.8" cy="594.8" r="4.3"/><circle cx="198.6" cy="594.8" r="4.3"/><circle cx="171.8" cy="600.8" r="4.3"/><circle cx="183.0" cy="595.3" r="4.3"/><circle cx="266.4" cy="572.1" r="4.3"/><circle cx="223.3" cy="601.8" r="4.3"/><circle cx="247.8" cy="568.3" r="4.3"/><circle cx="207.4" cy="577.4" r="4.3"/><circle cx="168.9" cy="580.4" r="4.3"/><circle cx="171.6" cy="596.4" r="4.3"/><circle cx="175.3" cy="582.2" r="4.3"/><circle cx="219.2" cy="580.2" r="4.3"/><circle cx="235.6" cy="599.8" r="4.3"/><circle cx="207.5" cy="595.4" r="4.3"/><circle cx="214.1" cy="596.2" r="4.3"/><circle cx="154.4" cy="597.8" r="4.3"/><circle cx="219.3" cy="582.8" r="4.3"/><circle cx="216.5" cy="594.2" r="4.3"/><circle cx="180.6" cy="594.4" r="4.3"/><circle cx="177.1" cy="589.6" r="4.3"/><circle cx="184.0" cy="583.3" r="4.3"/><circle cx="179.6" cy="591.3" r="4.3"/><circle cx="185.2" cy="580.0" r="4.3"/><circle cx="170.3" cy="582.4" r="4.3"/><circle cx="178.6" cy="590.3" r="4.3"/><circle cx="227.6" cy="588.1" r="4.3"/><circle cx="186.6" cy="599.2" r="4.3"/><circle cx="188.0" cy="593.7" r="4.3"/><circle cx="241.9" cy="595.9" r="4.3"/><circle cx="227.7" cy="588.3" r="4.3"/><circle cx="231.8" cy="606.6" r="4.3"/><circle cx="204.1" cy="587.1" r="4.3"/><circle cx="215.4" cy="599.2" r="4.3"/><circle cx="191.4" cy="582.9" r="4.3"/><circle cx="160.1" cy="583.9" r="4.3"/><circle cx="223.6" cy="591.9" r="4.3"/><circle cx="185.6" cy="589.4" r="4.3"/><circle cx="236.0" cy="606.8" r="4.3"/><circle cx="204.0" cy="600.0" r="4.3"/><circle cx="265.5" cy="581.2" r="4.3"/><circle cx="157.7" cy="584.7" r="4.3"/><circle cx="175.7" cy="594.3" r="4.3"/><circle cx="210.6" cy="595.5" r="4.3"/><circle cx="160.6" cy="576.5" r="4.3"/><circle cx="155.6" cy="586.7" r="4.3"/><circle cx="206.6" cy="602.2" r="4.3"/><circle cx="179.1" cy="589.6" r="4.3"/><circle cx="182.4" cy="591.9" r="4.3"/><circle cx="219.8" cy="582.7" r="4.3"/><circle cx="228.5" cy="585.7" r="4.3"/><circle cx="189.3" cy="581.7" r="4.3"/><circle cx="224.6" cy="591.5" r="4.3"/><circle cx="210.3" cy="603.0" r="4.3"/><circle cx="161.0" cy="586.0" r="4.3"/><circle cx="172.1" cy="597.4" r="4.3"/><circle cx="233.8" cy="601.9" r="4.3"/><circle cx="241.0" cy="594.5" r="4.3"/><circle cx="201.9" cy="581.4" r="4.3"/><circle cx="159.8" cy="601.2" r="4.3"/><circle cx="242.2" cy="607.5" r="4.3"/><circle cx="225.2" cy="605.4" r="4.3"/><circle cx="192.1" cy="600.9" r="4.3"/><circle cx="218.1" cy="584.8" r="4.3"/><circle cx="186.4" cy="587.8" r="4.3"/><circle cx="246.0" cy="569.8" r="4.3"/><circle cx="230.9" cy="587.1" r="4.3"/><circle cx="219.4" cy="577.9" r="4.3"/><circle cx="200.8" cy="575.8" r="4.3"/><circle cx="200.9" cy="594.7" r="4.3"/><circle cx="206.3" cy="588.4" r="4.3"/><circle cx="206.4" cy="589.7" r="4.3"/><circle cx="236.3" cy="587.8" r="4.3"/><circle cx="220.1" cy="575.0" r="4.3"/><circle cx="173.9" cy="590.3" r="4.3"/><circle cx="183.2" cy="588.6" r="4.3"/><circle cx="217.5" cy="589.9" r="4.3"/><circle cx="183.4" cy="590.5" r="4.3"/><circle cx="222.8" cy="608.6" r="4.3"/><circle cx="176.5" cy="588.8" r="4.3"/><circle cx="229.7" cy="578.8" r="4.3"/><circle cx="215.7" cy="588.7" r="4.3"/><circle cx="148.2" cy="585.1" r="4.3"/><circle cx="169.4" cy="586.0" r="4.3"/><circle cx="174.2" cy="599.1" r="4.3"/><circle cx="180.5" cy="593.8" r="4.3"/><circle cx="173.3" cy="582.0" r="4.3"/><circle cx="244.5" cy="587.8" r="4.3"/><circle cx="198.3" cy="588.6" r="4.3"/><circle cx="162.5" cy="583.1" r="4.3"/><circle cx="202.1" cy="589.9" r="4.3"/><circle cx="227.5" cy="584.7" r="4.3"/><circle cx="209.5" cy="592.1" r="4.3"/><circle cx="186.2" cy="579.7" r="4.3"/><circle cx="263.2" cy="581.7" r="4.3"/><circle cx="203.2" cy="592.0" r="4.3"/><circle cx="175.0" cy="587.1" r="4.3"/><circle cx="184.1" cy="593.1" r="4.3"/><circle cx="195.3" cy="589.4" r="4.3"/><circle cx="181.6" cy="595.2" r="4.3"/><circle cx="220.7" cy="598.4" r="4.3"/><circle cx="237.9" cy="596.2" r="4.3"/><circle cx="187.3" cy="587.9" r="4.3"/><circle cx="154.3" cy="578.5" r="4.3"/><circle cx="222.8" cy="592.3" r="4.3"/><circle cx="259.2" cy="583.2" r="4.3"/><circle cx="241.8" cy="603.3" r="4.3"/><circle cx="187.3" cy="597.0" r="4.3"/><circle cx="256.3" cy="605.3" r="4.3"/><circle cx="233.6" cy="586.8" r="4.3"/><circle cx="197.9" cy="579.3" r="4.3"/><circle cx="266.0" cy="586.7" r="4.3"/><circle cx="177.1" cy="584.4" r="4.3"/><circle cx="192.1" cy="583.3" r="4.3"/><circle cx="225.3" cy="599.4" r="4.3"/><circle cx="182.5" cy="593.8" r="4.3"/><circle cx="168.9" cy="592.0" r="4.3"/><circle cx="246.2" cy="598.2" r="4.3"/><circle cx="257.5" cy="604.4" r="4.3"/><circle cx="192.7" cy="587.9" r="4.3"/><circle cx="245.0" cy="576.3" r="4.3"/><circle cx="199.1" cy="577.5" r="4.3"/><circle cx="206.2" cy="588.0" r="4.3"/><circle cx="184.1" cy="583.2" r="4.3"/><circle cx="210.8" cy="593.1" r="4.3"/><circle cx="185.7" cy="583.8" r="4.3"/><circle cx="237.2" cy="587.2" r="4.3"/><circle cx="193.8" cy="590.5" r="4.3"/><circle cx="226.8" cy="588.4" r="4.3"/><circle cx="216.1" cy="596.5" r="4.3"/><circle cx="201.8" cy="594.3" r="4.3"/><circle cx="149.1" cy="590.0" r="4.3"/><circle cx="187.9" cy="586.8" r="4.3"/><circle cx="174.4" cy="588.8" r="4.3"/><circle cx="187.7" cy="585.0" r="4.3"/><circle cx="230.7" cy="587.0" r="4.3"/><circle cx="223.1" cy="575.7" r="4.3"/><circle cx="153.6" cy="591.8" r="4.3"/><circle cx="195.9" cy="578.0" r="4.3"/><circle cx="159.9" cy="583.4" r="4.3"/><circle cx="169.4" cy="585.3" r="4.3"/><circle cx="198.5" cy="583.8" r="4.3"/><circle cx="178.8" cy="574.4" r="4.3"/><circle cx="169.8" cy="586.2" r="4.3"/><circle cx="235.1" cy="593.6" r="4.3"/><circle cx="159.3" cy="593.3" r="4.3"/><circle cx="234.2" cy="573.2" r="4.3"/><circle cx="205.7" cy="583.9" r="4.3"/><circle cx="166.0" cy="590.6" r="4.3"/><circle cx="161.2" cy="597.3" r="4.3"/><circle cx="229.9" cy="593.4" r="4.3"/><circle cx="182.7" cy="604.0" r="4.3"/><circle cx="232.3" cy="596.0" r="4.3"/><circle cx="153.4" cy="591.9" r="4.3"/><circle cx="193.7" cy="581.2" r="4.3"/><circle cx="196.1" cy="586.1" r="4.3"/><circle cx="230.9" cy="582.9" r="4.3"/><circle cx="158.1" cy="589.3" r="4.3"/><circle cx="191.7" cy="603.4" r="4.3"/><circle cx="211.0" cy="585.1" r="4.3"/><circle cx="207.5" cy="582.9" r="4.3"/><circle cx="181.9" cy="589.0" r="4.3"/><circle cx="258.0" cy="612.5" r="4.3"/><circle cx="248.7" cy="606.4" r="4.3"/><circle cx="200.0" cy="585.6" r="4.3"/><circle cx="213.4" cy="585.6" r="4.3"/><circle cx="212.5" cy="596.0" r="4.3"/><circle cx="218.2" cy="582.2" r="4.3"/><circle cx="246.3" cy="588.7" r="4.3"/><circle cx="175.4" cy="584.6" r="4.3"/><circle cx="199.4" cy="592.9" r="4.3"/><circle cx="207.8" cy="590.8" r="4.3"/><circle cx="182.8" cy="594.3" r="4.3"/><circle cx="222.1" cy="580.6" r="4.3"/><circle cx="201.2" cy="606.9" r="4.3"/><circle cx="157.2" cy="590.5" r="4.3"/><circle cx="180.8" cy="586.4" r="4.3"/><circle cx="214.0" cy="580.2" r="4.3"/><circle cx="233.5" cy="573.3" r="4.3"/><circle cx="234.9" cy="588.7" r="4.3"/><circle cx="196.8" cy="590.2" r="4.3"/><circle cx="214.8" cy="599.8" r="4.3"/><circle cx="261.9" cy="580.4" r="4.3"/><circle cx="239.9" cy="596.4" r="4.3"/><circle cx="234.5" cy="589.5" r="4.3"/><circle cx="205.0" cy="591.4" r="4.3"/><circle cx="226.1" cy="588.4" r="4.3"/><circle cx="166.0" cy="583.7" r="4.3"/><circle cx="211.1" cy="593.6" r="4.3"/><circle cx="177.0" cy="578.9" r="4.3"/><circle cx="202.6" cy="593.4" r="4.3"/><circle cx="226.7" cy="592.2" r="4.3"/><circle cx="181.7" cy="578.2" r="4.3"/><circle cx="244.2" cy="567.6" r="4.3"/><circle cx="192.0" cy="590.9" r="4.3"/><circle cx="221.7" cy="599.4" r="4.3"/><circle cx="235.0" cy="592.4" r="4.3"/><circle cx="210.5" cy="596.2" r="4.3"/><circle cx="208.3" cy="578.4" r="4.3"/><circle cx="200.9" cy="596.4" r="4.3"/><circle cx="217.8" cy="590.8" r="4.3"/><circle cx="175.3" cy="584.8" r="4.3"/><circle cx="153.4" cy="585.5" r="4.3"/><circle cx="178.0" cy="577.7" r="4.3"/><circle cx="249.7" cy="609.8" r="4.3"/><circle cx="165.2" cy="601.8" r="4.3"/><circle cx="243.5" cy="601.2" r="4.3"/><circle cx="161.0" cy="579.3" r="4.3"/><circle cx="175.4" cy="594.8" r="4.3"/><circle cx="147.3" cy="583.1" r="4.3"/><circle cx="189.4" cy="588.1" r="4.3"/><circle cx="185.8" cy="593.9" r="4.3"/><circle cx="240.3" cy="581.7" r="4.3"/><circle cx="210.9" cy="597.0" r="4.3"/><circle cx="166.8" cy="588.2" r="4.3"/><circle cx="226.6" cy="580.1" r="4.3"/><circle cx="203.8" cy="596.5" r="4.3"/><circle cx="157.0" cy="591.6" r="4.3"/><circle cx="157.4" cy="593.0" r="4.3"/><circle cx="195.2" cy="583.4" r="4.3"/><circle cx="232.8" cy="575.3" r="4.3"/><circle cx="164.2" cy="587.0" r="4.3"/><circle cx="232.4" cy="586.1" r="4.3"/><circle cx="183.9" cy="584.1" r="4.3"/><circle cx="247.1" cy="581.8" r="4.3"/><circle cx="228.7" cy="605.2" r="4.3"/><circle cx="234.4" cy="602.5" r="4.3"/><circle cx="178.4" cy="586.7" r="4.3"/><circle cx="239.8" cy="576.6" r="4.3"/><circle cx="255.2" cy="591.5" r="4.3"/><circle cx="162.3" cy="578.3" r="4.3"/><circle cx="180.9" cy="593.1" r="4.3"/><circle cx="205.3" cy="587.7" r="4.3"/><circle cx="221.9" cy="571.9" r="4.3"/><circle cx="160.0" cy="589.2" r="4.3"/><circle cx="260.8" cy="577.1" r="4.3"/><circle cx="176.8" cy="573.4" r="4.3"/><circle cx="176.2" cy="577.3" r="4.3"/><circle cx="191.2" cy="578.6" r="4.3"/><circle cx="197.0" cy="601.9" r="4.3"/><circle cx="210.1" cy="571.5" r="4.3"/><circle cx="237.6" cy="602.8" r="4.3"/><circle cx="200.0" cy="594.4" r="4.3"/><circle cx="168.3" cy="588.2" r="4.3"/><circle cx="220.2" cy="596.5" r="4.3"/><circle cx="193.9" cy="596.0" r="4.3"/><circle cx="223.6" cy="584.2" r="4.3"/><circle cx="189.8" cy="584.0" r="4.3"/><circle cx="272.0" cy="588.4" r="4.3"/><circle cx="269.2" cy="581.0" r="4.3"/><circle cx="260.7" cy="576.5" r="4.3"/><circle cx="267.1" cy="592.8" r="4.3"/><circle cx="270.5" cy="585.4" r="4.3"/><circle cx="270.1" cy="597.1" r="4.3"/><circle cx="269.5" cy="590.5" r="4.3"/><circle cx="266.1" cy="592.7" r="4.3"/><circle cx="272.8" cy="594.3" r="4.3"/><circle cx="259.9" cy="588.0" r="4.3"/><circle cx="262.7" cy="578.5" r="4.3"/><circle cx="261.1" cy="604.2" r="4.3"/><circle cx="145.3" cy="588.7" r="4.3"/><circle cx="145.6" cy="589.0" r="4.3"/><circle cx="146.0" cy="587.4" r="4.3"/><circle cx="146.3" cy="589.2" r="4.3"/><circle cx="146.6" cy="588.5" r="4.3"/><circle cx="146.9" cy="587.4" r="4.3"/><circle cx="147.2" cy="588.4" r="4.3"/><circle cx="147.5" cy="589.4" r="4.3"/><circle cx="147.9" cy="589.8" r="4.3"/><circle cx="148.2" cy="587.9" r="4.3"/><circle cx="148.5" cy="586.2" r="4.3"/><circle cx="148.8" cy="586.5" r="4.3"/><circle cx="149.1" cy="589.6" r="4.3"/><circle cx="149.4" cy="588.1" r="4.3"/><circle cx="149.8" cy="588.1" r="4.3"/><circle cx="150.1" cy="589.3" r="4.3"/><circle cx="150.4" cy="587.4" r="4.3"/><circle cx="150.7" cy="588.1" r="4.3"/><circle cx="151.0" cy="586.9" r="4.3"/><circle cx="151.3" cy="588.9" r="4.3"/><circle cx="151.7" cy="586.4" r="4.3"/><circle cx="152.0" cy="586.9" r="4.3"/><circle cx="152.3" cy="588.2" r="4.3"/><circle cx="152.6" cy="589.5" r="4.3"/><circle cx="152.9" cy="588.2" r="4.3"/></g>
<path d="M149.50 932.70V1255.80M140.80 1247.30H650.30M140.80 932.70H149.50M143.10 945.28H149.50M143.10 957.87H149.50M143.10 970.45H149.50M143.10 983.04H149.50M140.80 995.62H149.50M143.10 1008.20H149.50M143.10 1020.79H149.50M143.10 1033.37H149.50M143.10 1045.96H149.50M140.80 1058.54H149.50M143.10 1071.12H149.50M143.10 1083.71H149.50M143.10 1096.29H149.50M143.10 1108.88H149.50M140.80 1121.46H149.50M143.10 1134.04H149.50M143.10 1146.63H149.50M143.10 1159.21H149.50M143.10 1171.80H149.50M140.80 1184.38H149.50M143.10 1196.96H149.50M143.10 1209.55H149.50M143.10 1222.13H149.50M143.10 1234.72H149.50M140.80 1247.30H149.50M221.04 1247.30V1254.90M292.59 1247.30V1254.90M364.13 1247.30V1254.90M435.67 1247.30V1254.90M507.21 1247.30V1254.90M578.76 1247.30V1254.90M650.30 1247.30V1253.90" stroke="#1a1a1a" stroke-width="1.8" fill="none"/>
<text transform="translate(125.20 941.80) scale(1 1.06)" font-size="27.3" text-anchor="end">400</text>
<text transform="translate(125.20 1004.72) scale(1 1.06)" font-size="27.3" text-anchor="end">200</text>
<text transform="translate(125.20 1067.64) scale(1 1.06)" font-size="27.3" text-anchor="end">0</text>
<text transform="translate(125.20 1130.56) scale(1 1.06)" font-size="27.3" text-anchor="end">-200</text>
<text transform="translate(125.20 1193.48) scale(1 1.06)" font-size="27.3" text-anchor="end">-400</text>
<text transform="translate(125.20 1256.40) scale(1 1.06)" font-size="27.3" text-anchor="end">-600</text>
<text transform="translate(149.30 1289.50) scale(1 1.06)" font-size="27.3" text-anchor="middle">0</text>
<text transform="translate(292.39 1289.50) scale(1 1.06)" font-size="27.3" text-anchor="middle">1000</text>
<text transform="translate(435.47 1289.50) scale(1 1.06)" font-size="27.3" text-anchor="middle">2000</text>
<text transform="translate(578.56 1289.50) scale(1 1.06)" font-size="27.3" text-anchor="middle">3000</text>
<path d="M150.70 1068.65H650.10" stroke="#1a1a1a" stroke-width="3.3" stroke-linecap="round" fill="none"/>
<path d="M150.50 1015.20H644.05" stroke="#1a1a1a" stroke-width="2.5" stroke-linecap="round" stroke-dasharray="8.7 10.73" stroke-dashoffset="1.15" fill="none"/>
<path d="M150.50 1122.40H644.05" stroke="#1a1a1a" stroke-width="2.5" stroke-linecap="round" stroke-dasharray="8.7 10.73" stroke-dashoffset="1.15" fill="none"/>
<g><circle cx="224.2" cy="1042.0" r="4.3"/><circle cx="216.0" cy="1047.3" r="4.3"/><circle cx="215.2" cy="1049.3" r="4.3"/><circle cx="217.7" cy="1051.6" r="4.3"/><circle cx="201.3" cy="1051.3" r="4.3"/><circle cx="205.7" cy="1051.6" r="4.3"/><circle cx="197.2" cy="1053.3" r="4.3"/><circle cx="185.8" cy="1054.2" r="4.3"/><circle cx="177.8" cy="1055.8" r="4.3"/><circle cx="181.5" cy="1055.7" r="4.3"/><circle cx="238.9" cy="1050.9" r="4.3"/><circle cx="254.4" cy="1052.4" r="4.3"/><circle cx="235.8" cy="1054.3" r="4.3"/><circle cx="233.4" cy="1056.5" r="4.3"/><circle cx="224.9" cy="1054.5" r="4.3"/><circle cx="223.0" cy="1056.9" r="4.3"/><circle cx="215.2" cy="1056.0" r="4.3"/><circle cx="204.4" cy="1055.0" r="4.3"/><circle cx="194.8" cy="1055.6" r="4.3"/><circle cx="188.7" cy="1056.2" r="4.3"/><circle cx="175.5" cy="1057.0" r="4.3"/><circle cx="166.5" cy="1057.8" r="4.3"/><circle cx="153.7" cy="1058.5" r="4.3"/><circle cx="154.9" cy="1058.6" r="4.3"/><circle cx="161.6" cy="1058.6" r="4.3"/><circle cx="168.2" cy="1059.1" r="4.3"/><circle cx="243.6" cy="1058.5" r="4.3"/><circle cx="246.7" cy="1065.7" r="4.3"/><circle cx="234.6" cy="1063.6" r="4.3"/><circle cx="229.7" cy="1063.9" r="4.3"/><circle cx="222.5" cy="1065.5" r="4.3"/><circle cx="216.5" cy="1062.5" r="4.3"/><circle cx="212.9" cy="1060.5" r="4.3"/><circle cx="210.5" cy="1057.9" r="4.3"/><circle cx="204.4" cy="1057.6" r="4.3"/><circle cx="198.4" cy="1059.4" r="4.3"/><circle cx="202.0" cy="1061.7" r="4.3"/><circle cx="205.7" cy="1063.9" r="4.3"/><circle cx="197.2" cy="1063.7" r="4.3"/><circle cx="191.2" cy="1061.3" r="4.3"/><circle cx="191.2" cy="1063.1" r="4.3"/><circle cx="198.4" cy="1065.9" r="4.3"/><circle cx="204.4" cy="1067.6" r="4.3"/><circle cx="210.5" cy="1069.5" r="4.3"/><circle cx="215.2" cy="1068.0" r="4.3"/><circle cx="179.1" cy="1063.4" r="4.3"/><circle cx="177.8" cy="1062.0" r="4.3"/><circle cx="171.8" cy="1060.7" r="4.3"/><circle cx="261.1" cy="1071.0" r="4.3"/><circle cx="235.8" cy="1067.9" r="4.3"/><circle cx="233.4" cy="1070.6" r="4.3"/><circle cx="242.3" cy="1072.5" r="4.3"/><circle cx="239.9" cy="1075.4" r="4.3"/><circle cx="231.0" cy="1075.8" r="4.3"/><circle cx="238.2" cy="1078.4" r="4.3"/><circle cx="240.1" cy="1080.5" r="4.3"/><circle cx="222.0" cy="1075.4" r="4.3"/><circle cx="267.1" cy="1082.1" r="4.3"/><circle cx="273.8" cy="1082.9" r="4.3"/><circle cx="279.3" cy="1085.4" r="4.3"/><circle cx="265.5" cy="1087.9" r="4.3"/><circle cx="209.7" cy="1078.5" r="4.3"/><circle cx="216.5" cy="1080.6" r="4.3"/><circle cx="218.9" cy="1081.2" r="4.3"/><circle cx="245.4" cy="1089.4" r="4.3"/><circle cx="251.9" cy="1100.4" r="4.3"/><circle cx="246.7" cy="1106.7" r="4.3"/><circle cx="277.6" cy="1131.9" r="4.3"/><circle cx="281.2" cy="1132.4" r="4.3"/><circle cx="279.5" cy="1150.3" r="4.3"/><circle cx="157.9" cy="1058.6" r="4.3"/><circle cx="169.4" cy="1059.5" r="4.3"/><circle cx="174.3" cy="1061.0" r="4.3"/><circle cx="177.2" cy="1055.7" r="4.3"/><circle cx="211.7" cy="1057.7" r="4.3"/><circle cx="208.0" cy="1058.9" r="4.3"/><circle cx="214.0" cy="1061.3" r="4.3"/><circle cx="218.9" cy="1062.7" r="4.3"/><circle cx="198.4" cy="1060.6" r="4.3"/><circle cx="198.4" cy="1064.4" r="4.3"/><circle cx="259.0" cy="1149.4" r="4.3"/><circle cx="298.7" cy="1179.3" r="4.3"/><circle cx="311.6" cy="1179.6" r="4.3"/><circle cx="337.6" cy="1227.1" r="4.3"/><circle cx="392.9" cy="1176.8" r="4.3"/><circle cx="189.1" cy="1055.7" r="4.3"/><circle cx="180.1" cy="1059.9" r="4.3"/><circle cx="184.5" cy="1058.0" r="4.3"/><circle cx="180.4" cy="1060.7" r="4.3"/><circle cx="186.7" cy="1056.8" r="4.3"/><circle cx="190.2" cy="1056.9" r="4.3"/><circle cx="181.8" cy="1059.5" r="4.3"/><circle cx="180.8" cy="1059.4" r="4.3"/><circle cx="181.6" cy="1059.2" r="4.3"/><circle cx="189.1" cy="1058.1" r="4.3"/><circle cx="185.3" cy="1057.9" r="4.3"/><circle cx="180.9" cy="1061.1" r="4.3"/><circle cx="180.4" cy="1058.7" r="4.3"/><circle cx="189.3" cy="1060.1" r="4.3"/><circle cx="187.1" cy="1056.6" r="4.3"/><circle cx="182.5" cy="1058.1" r="4.3"/><circle cx="188.1" cy="1057.4" r="4.3"/><circle cx="177.2" cy="1055.3" r="4.3"/><circle cx="185.4" cy="1061.4" r="4.3"/><circle cx="174.3" cy="1060.0" r="4.3"/><circle cx="171.2" cy="1058.8" r="4.3"/><circle cx="181.1" cy="1059.8" r="4.3"/><circle cx="181.9" cy="1058.8" r="4.3"/><circle cx="187.7" cy="1060.4" r="4.3"/><circle cx="182.2" cy="1057.7" r="4.3"/><circle cx="187.5" cy="1060.1" r="4.3"/><circle cx="182.6" cy="1060.1" r="4.3"/><circle cx="187.0" cy="1057.0" r="4.3"/><circle cx="189.5" cy="1058.4" r="4.3"/><circle cx="192.9" cy="1058.9" r="4.3"/><circle cx="172.7" cy="1059.0" r="4.3"/><circle cx="182.2" cy="1056.2" r="4.3"/><circle cx="179.5" cy="1058.9" r="4.3"/><circle cx="186.2" cy="1060.3" r="4.3"/><circle cx="188.1" cy="1056.9" r="4.3"/><circle cx="176.4" cy="1058.2" r="4.3"/><circle cx="178.6" cy="1059.4" r="4.3"/><circle cx="184.4" cy="1058.5" r="4.3"/><circle cx="188.0" cy="1057.8" r="4.3"/><circle cx="172.9" cy="1057.9" r="4.3"/><circle cx="186.9" cy="1057.3" r="4.3"/><circle cx="174.1" cy="1058.9" r="4.3"/><circle cx="175.1" cy="1058.4" r="4.3"/><circle cx="178.2" cy="1056.8" r="4.3"/><circle cx="185.8" cy="1060.6" r="4.3"/><circle cx="181.3" cy="1055.1" r="4.3"/><circle cx="180.4" cy="1057.8" r="4.3"/><circle cx="188.1" cy="1055.2" r="4.3"/><circle cx="189.4" cy="1058.0" r="4.3"/><circle cx="175.8" cy="1058.8" r="4.3"/><circle cx="186.2" cy="1060.8" r="4.3"/><circle cx="183.5" cy="1055.3" r="4.3"/><circle cx="175.6" cy="1057.1" r="4.3"/><circle cx="177.9" cy="1059.1" r="4.3"/><circle cx="185.2" cy="1056.8" r="4.3"/></g>
<path d="M144.30 1353.10V1667.80M135.60 1659.30H651.70M135.60 1353.10H144.30M137.90 1372.24H144.30M135.60 1391.38H144.30M137.90 1410.51H144.30M135.60 1429.65H144.30M137.90 1448.79H144.30M135.60 1467.92H144.30M137.90 1487.06H144.30M135.60 1506.20H144.30M137.90 1525.34H144.30M135.60 1544.47H144.30M137.90 1563.61H144.30M135.60 1582.75H144.30M137.90 1601.89H144.30M135.60 1621.03H144.30M137.90 1640.16H144.30M135.60 1659.30H144.30M216.79 1659.30V1666.90M289.27 1659.30V1666.90M361.76 1659.30V1666.90M434.24 1659.30V1666.90M506.73 1659.30V1666.90M579.21 1659.30V1666.90M651.70 1659.30V1665.90" stroke="#1a1a1a" stroke-width="1.8" fill="none"/>
<text transform="translate(120.00 1362.20) scale(1 1.06)" font-size="27.3" text-anchor="end">30</text>
<text transform="translate(120.00 1400.47) scale(1 1.06)" font-size="27.3" text-anchor="end">20</text>
<text transform="translate(120.00 1438.75) scale(1 1.06)" font-size="27.3" text-anchor="end">10</text>
<text transform="translate(120.00 1477.02) scale(1 1.06)" font-size="27.3" text-anchor="end">0</text>
<text transform="translate(120.00 1515.30) scale(1 1.06)" font-size="27.3" text-anchor="end">-10</text>
<text transform="translate(120.00 1553.57) scale(1 1.06)" font-size="27.3" text-anchor="end">-20</text>
<text transform="translate(120.00 1591.85) scale(1 1.06)" font-size="27.3" text-anchor="end">-30</text>
<text transform="translate(120.00 1630.12) scale(1 1.06)" font-size="27.3" text-anchor="end">-40</text>
<text transform="translate(120.00 1668.40) scale(1 1.06)" font-size="27.3" text-anchor="end">-50</text>
<text transform="translate(144.10 1700.80) scale(1 1.06)" font-size="27.3" text-anchor="middle">0</text>
<text transform="translate(289.07 1700.80) scale(1 1.06)" font-size="27.3" text-anchor="middle">1000</text>
<text transform="translate(434.04 1700.80) scale(1 1.06)" font-size="27.3" text-anchor="middle">2000</text>
<text transform="translate(579.01 1700.80) scale(1 1.06)" font-size="27.3" text-anchor="middle">3000</text>
<path d="M145.50 1482.50H651.60" stroke="#1a1a1a" stroke-width="3.3" stroke-linecap="round" fill="none"/>
<path d="M145.30 1415.50H652.15" stroke="#1a1a1a" stroke-width="2.8" stroke-linecap="round" stroke-dasharray="8.7 10.73" stroke-dashoffset="1.15" fill="none"/>
<path d="M145.30 1549.60H652.15" stroke="#1a1a1a" stroke-width="2.8" stroke-linecap="round" stroke-dasharray="8.7 10.73" stroke-dashoffset="1.15" fill="none"/>
<g><circle cx="220.0" cy="1429.4" r="4.3"/><circle cx="211.7" cy="1438.4" r="4.3"/><circle cx="210.9" cy="1443.5" r="4.3"/><circle cx="213.4" cy="1450.2" r="4.3"/><circle cx="196.8" cy="1443.5" r="4.3"/><circle cx="201.2" cy="1446.5" r="4.3"/><circle cx="192.6" cy="1448.9" r="4.3"/><circle cx="181.1" cy="1447.0" r="4.3"/><circle cx="173.0" cy="1450.9" r="4.3"/><circle cx="176.7" cy="1452.6" r="4.3"/><circle cx="234.9" cy="1453.1" r="4.3"/><circle cx="250.6" cy="1457.7" r="4.3"/><circle cx="231.7" cy="1459.4" r="4.3"/><circle cx="229.3" cy="1463.6" r="4.3"/><circle cx="220.7" cy="1458.7" r="4.3"/><circle cx="218.8" cy="1464.1" r="4.3"/><circle cx="210.9" cy="1461.2" r="4.3"/><circle cx="199.9" cy="1456.8" r="4.3"/><circle cx="190.2" cy="1456.8" r="4.3"/><circle cx="184.0" cy="1457.5" r="4.3"/><circle cx="170.6" cy="1457.5" r="4.3"/><circle cx="161.5" cy="1459.9" r="4.3"/><circle cx="148.6" cy="1467.3" r="4.3"/><circle cx="149.8" cy="1470.9" r="4.3"/><circle cx="156.6" cy="1468.5" r="4.3"/><circle cx="163.2" cy="1473.4" r="4.3"/><circle cx="239.6" cy="1467.8" r="4.3"/><circle cx="242.8" cy="1480.7" r="4.3"/><circle cx="230.5" cy="1478.3" r="4.3"/><circle cx="225.6" cy="1479.5" r="4.3"/><circle cx="218.3" cy="1484.4" r="4.3"/><circle cx="212.2" cy="1478.3" r="4.3"/><circle cx="208.5" cy="1473.4" r="4.3"/><circle cx="206.1" cy="1466.1" r="4.3"/><circle cx="199.9" cy="1464.8" r="4.3"/><circle cx="193.8" cy="1470.9" r="4.3"/><circle cx="197.5" cy="1478.3" r="4.3"/><circle cx="201.2" cy="1484.4" r="4.3"/><circle cx="192.6" cy="1486.9" r="4.3"/><circle cx="186.5" cy="1479.5" r="4.3"/><circle cx="186.5" cy="1486.9" r="4.3"/><circle cx="193.8" cy="1494.2" r="4.3"/><circle cx="199.9" cy="1496.6" r="4.3"/><circle cx="206.1" cy="1499.1" r="4.3"/><circle cx="210.9" cy="1493.0" r="4.3"/><circle cx="174.3" cy="1496.6" r="4.3"/><circle cx="173.0" cy="1489.3" r="4.3"/><circle cx="166.9" cy="1484.4" r="4.3"/><circle cx="257.4" cy="1487.3" r="4.3"/><circle cx="231.7" cy="1486.9" r="4.3"/><circle cx="229.3" cy="1493.0" r="4.3"/><circle cx="238.3" cy="1494.2" r="4.3"/><circle cx="235.9" cy="1500.3" r="4.3"/><circle cx="226.9" cy="1504.7" r="4.3"/><circle cx="234.2" cy="1506.9" r="4.3"/><circle cx="236.1" cy="1510.1" r="4.3"/><circle cx="217.8" cy="1508.4" r="4.3"/><circle cx="263.5" cy="1502.8" r="4.3"/><circle cx="270.2" cy="1502.0" r="4.3"/><circle cx="275.8" cy="1504.0" r="4.3"/><circle cx="261.8" cy="1512.0" r="4.3"/><circle cx="205.3" cy="1525.5" r="4.3"/><circle cx="212.2" cy="1525.3" r="4.3"/><circle cx="214.6" cy="1524.8" r="4.3"/><circle cx="241.5" cy="1524.0" r="4.3"/><circle cx="248.1" cy="1539.0" r="4.3"/><circle cx="242.8" cy="1554.1" r="4.3"/><circle cx="274.1" cy="1567.6" r="4.3"/><circle cx="277.7" cy="1565.6" r="4.3"/><circle cx="276.0" cy="1590.8" r="4.3"/><circle cx="152.8" cy="1469.2" r="4.3"/><circle cx="164.5" cy="1476.5" r="4.3"/><circle cx="169.4" cy="1485.0" r="4.3"/><circle cx="172.4" cy="1450.2" r="4.3"/><circle cx="207.3" cy="1465.5" r="4.3"/><circle cx="203.6" cy="1469.1" r="4.3"/><circle cx="209.7" cy="1475.3" r="4.3"/><circle cx="214.6" cy="1478.3" r="4.3"/><circle cx="193.8" cy="1475.3" r="4.3"/><circle cx="193.8" cy="1488.7" r="4.3"/><circle cx="255.2" cy="1612.4" r="4.3"/><circle cx="295.5" cy="1608.8" r="4.3"/><circle cx="308.5" cy="1598.0" r="4.3"/><circle cx="334.9" cy="1623.9" r="4.3"/><circle cx="390.9" cy="1552.5" r="4.3"/><circle cx="184.4" cy="1455.3" r="4.3"/><circle cx="175.3" cy="1475.8" r="4.3"/><circle cx="179.8" cy="1465.3" r="4.3"/><circle cx="175.6" cy="1480.3" r="4.3"/><circle cx="182.0" cy="1459.8" r="4.3"/><circle cx="185.5" cy="1461.0" r="4.3"/><circle cx="177.0" cy="1472.9" r="4.3"/><circle cx="176.0" cy="1472.8" r="4.3"/><circle cx="176.8" cy="1471.8" r="4.3"/><circle cx="184.4" cy="1466.2" r="4.3"/><circle cx="180.6" cy="1464.8" r="4.3"/><circle cx="176.1" cy="1482.3" r="4.3"/><circle cx="175.6" cy="1468.7" r="4.3"/><circle cx="184.6" cy="1474.9" r="4.3"/><circle cx="182.4" cy="1459.2" r="4.3"/><circle cx="177.7" cy="1465.5" r="4.3"/><circle cx="183.4" cy="1462.7" r="4.3"/><circle cx="172.4" cy="1447.3" r="4.3"/><circle cx="180.7" cy="1482.0" r="4.3"/><circle cx="169.5" cy="1478.1" r="4.3"/><circle cx="166.3" cy="1470.2" r="4.3"/><circle cx="176.3" cy="1474.9" r="4.3"/><circle cx="177.1" cy="1469.3" r="4.3"/><circle cx="183.0" cy="1476.6" r="4.3"/><circle cx="177.4" cy="1463.6" r="4.3"/><circle cx="182.8" cy="1475.3" r="4.3"/><circle cx="177.8" cy="1476.2" r="4.3"/><circle cx="182.3" cy="1460.6" r="4.3"/><circle cx="184.8" cy="1467.3" r="4.3"/><circle cx="188.2" cy="1469.3" r="4.3"/><circle cx="167.8" cy="1471.5" r="4.3"/><circle cx="177.4" cy="1455.5" r="4.3"/><circle cx="174.7" cy="1470.0" r="4.3"/><circle cx="181.5" cy="1476.2" r="4.3"/><circle cx="183.5" cy="1460.6" r="4.3"/><circle cx="171.6" cy="1465.6" r="4.3"/><circle cx="173.7" cy="1472.8" r="4.3"/><circle cx="179.6" cy="1467.7" r="4.3"/><circle cx="183.3" cy="1464.4" r="4.3"/><circle cx="168.0" cy="1463.2" r="4.3"/><circle cx="182.2" cy="1462.1" r="4.3"/><circle cx="169.3" cy="1470.5" r="4.3"/><circle cx="170.2" cy="1467.3" r="4.3"/><circle cx="173.4" cy="1457.1" r="4.3"/><circle cx="181.1" cy="1477.8" r="4.3"/><circle cx="176.5" cy="1449.3" r="4.3"/><circle cx="175.6" cy="1463.8" r="4.3"/><circle cx="183.4" cy="1452.7" r="4.3"/><circle cx="184.8" cy="1465.7" r="4.3"/><circle cx="170.9" cy="1469.6" r="4.3"/><circle cx="181.5" cy="1478.7" r="4.3"/><circle cx="178.7" cy="1451.3" r="4.3"/><circle cx="170.7" cy="1458.5" r="4.3"/><circle cx="173.1" cy="1471.6" r="4.3"/><circle cx="180.4" cy="1459.3" r="4.3"/></g>
<text transform="translate(286.80 436.90) scale(1 1.045)" font-size="28.86">TBS<tspan font-size="19.2" dy="7.08">individual</tspan><tspan dy="-7.08" dx="-1.6" font-size="29.87"> (µmol)</tspan></text>
<text transform="translate(283.50 864.20) scale(1 1.045)" font-size="28.86">TBS<tspan font-size="19.2" dy="7.08">individual</tspan><tspan dy="-7.08" dx="-1.6" font-size="29.87"> (µmol)</tspan></text>
<text transform="translate(286.80 1322.80) scale(1 1.045)" font-size="28.86">TBS<tspan font-size="19.2" dy="7.08">individual</tspan><tspan dy="-7.08" dx="-1.6" font-size="29.87"> (µmol)</tspan></text>
<text transform="translate(285.10 1744.30) scale(1 1.045)" font-size="28.86">TBS<tspan font-size="19.2" dy="7.08">individual</tspan><tspan dy="-7.08" dx="-1.6" font-size="29.87"> (µmol)</tspan></text>
<text transform="translate(27.50 379.10) rotate(-90)" font-size="25">TBS<tspan font-size="16.6" dy="6.7">study</tspan><tspan dy="-6.7" dx="2.7"> –</tspan><tspan dx="0.9"> TBS</tspan><tspan font-size="16.6" dy="6.7" dx="0.6">individual</tspan><tspan dy="-6.7" dx="-3.5" font-size="25.25"> (µmol)</tspan></text>
<text transform="translate(40.80 798.90) rotate(-90)" font-size="25">Relative TBS<tspan font-size="16.6" dy="6.7">study</tspan><tspan dy="-6.7"> error (%)</tspan></text>
<text transform="translate(27.50 1258.50) rotate(-90)" font-size="25">TBS<tspan font-size="16.6" dy="6.7">study</tspan><tspan dy="-6.7" dx="2.7"> –</tspan><tspan dx="0.9"> TBS</tspan><tspan font-size="16.6" dy="6.7" dx="0.6">individual</tspan><tspan dy="-6.7" dx="-3.5" font-size="25.25"> (µmol)</tspan></text>
<text transform="translate(39.40 1673.70) rotate(-90)" font-size="25">Relative TBS<tspan font-size="16.6" dy="6.7">study</tspan><tspan dy="-6.7"> error (%)</tspan></text>
<text transform="translate(-0.90 28.50) scale(1 0.968)" font-size="35.7" font-weight="bold">A</text>
<text transform="translate(0.20 488.40) scale(1 1.045)" font-size="33.1" font-weight="bold">B</text>
<text transform="translate(0.20 909.80) scale(1 1.09)" font-size="32.4" font-weight="bold">C</text>
<text transform="translate(0.10 1331.00) scale(1 1.03)" font-size="33.3" font-weight="bold">D</text>
<text transform="translate(328.70 73.60) scale(1 1.02)" font-size="30.5" font-weight="bold">Children</text>
<text transform="translate(327.50 960.20)" font-size="30.5" font-weight="bold">Women</text>
</svg>
</body></html>
